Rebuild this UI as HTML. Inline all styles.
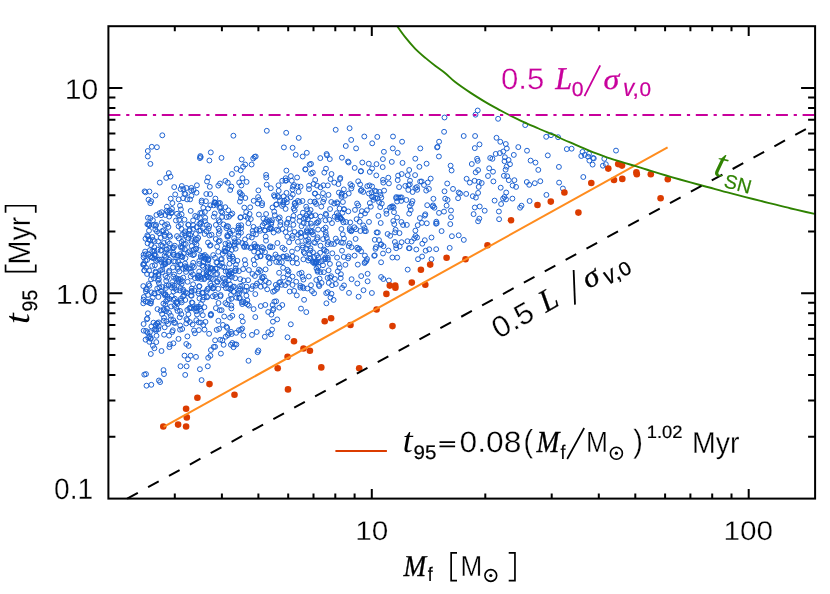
<!DOCTYPE html>
<html><head><meta charset="utf-8"><title>t95 vs Mf</title>
<style>html,body{margin:0;padding:0;background:#fff;}svg{display:block;will-change:transform;}text{text-rendering:geometricPrecision;}</style>
</head><body>
<svg width="830" height="594" viewBox="0 0 830 594">
<rect width="830" height="594" fill="#fff"/>
<g fill="none" stroke="#1a5fd0" stroke-width="0.98">
<circle cx="258.9" cy="214.5" r="2.45"/>
<circle cx="311.0" cy="285.2" r="2.45"/>
<circle cx="216.7" cy="204.7" r="2.45"/>
<circle cx="215.1" cy="294.8" r="2.45"/>
<circle cx="231.9" cy="276.8" r="2.45"/>
<circle cx="166.9" cy="308.5" r="2.45"/>
<circle cx="254.9" cy="276.0" r="2.45"/>
<circle cx="180.2" cy="264.4" r="2.45"/>
<circle cx="271.2" cy="224.1" r="2.45"/>
<circle cx="169.3" cy="248.1" r="2.45"/>
<circle cx="215.9" cy="224.9" r="2.45"/>
<circle cx="206.5" cy="231.3" r="2.45"/>
<circle cx="260.8" cy="286.7" r="2.45"/>
<circle cx="153.9" cy="225.2" r="2.45"/>
<circle cx="360.8" cy="171.4" r="2.45"/>
<circle cx="149.4" cy="285.7" r="2.45"/>
<circle cx="447.6" cy="199.9" r="2.45"/>
<circle cx="379.5" cy="191.9" r="2.45"/>
<circle cx="204.6" cy="234.0" r="2.45"/>
<circle cx="265.1" cy="230.6" r="2.45"/>
<circle cx="376.0" cy="247.1" r="2.45"/>
<circle cx="289.7" cy="291.5" r="2.45"/>
<circle cx="357.3" cy="283.5" r="2.45"/>
<circle cx="390.2" cy="235.8" r="2.45"/>
<circle cx="245.2" cy="216.3" r="2.45"/>
<circle cx="183.8" cy="253.2" r="2.45"/>
<circle cx="148.0" cy="302.1" r="2.45"/>
<circle cx="181.7" cy="241.9" r="2.45"/>
<circle cx="198.9" cy="330.1" r="2.45"/>
<circle cx="148.0" cy="294.9" r="2.45"/>
<circle cx="271.5" cy="222.3" r="2.45"/>
<circle cx="344.0" cy="238.6" r="2.45"/>
<circle cx="303.4" cy="279.6" r="2.45"/>
<circle cx="411.6" cy="203.6" r="2.45"/>
<circle cx="198.5" cy="293.5" r="2.45"/>
<circle cx="381.3" cy="197.6" r="2.45"/>
<circle cx="292.6" cy="235.7" r="2.45"/>
<circle cx="188.4" cy="314.2" r="2.45"/>
<circle cx="167.4" cy="296.8" r="2.45"/>
<circle cx="344.0" cy="285.4" r="2.45"/>
<circle cx="219.8" cy="265.4" r="2.45"/>
<circle cx="270.3" cy="246.3" r="2.45"/>
<circle cx="312.0" cy="291.1" r="2.45"/>
<circle cx="144.4" cy="270.5" r="2.45"/>
<circle cx="178.5" cy="279.8" r="2.45"/>
<circle cx="146.0" cy="374.1" r="2.45"/>
<circle cx="143.7" cy="330.7" r="2.45"/>
<circle cx="315.2" cy="193.5" r="2.45"/>
<circle cx="258.4" cy="190.4" r="2.45"/>
<circle cx="375.2" cy="197.9" r="2.45"/>
<circle cx="149.7" cy="336.2" r="2.45"/>
<circle cx="312.7" cy="231.6" r="2.45"/>
<circle cx="222.2" cy="266.7" r="2.45"/>
<circle cx="180.0" cy="310.9" r="2.45"/>
<circle cx="217.1" cy="281.3" r="2.45"/>
<circle cx="216.7" cy="329.9" r="2.45"/>
<circle cx="398.1" cy="175.6" r="2.45"/>
<circle cx="164.9" cy="295.4" r="2.45"/>
<circle cx="215.1" cy="340.3" r="2.45"/>
<circle cx="161.5" cy="351.0" r="2.45"/>
<circle cx="200.6" cy="223.6" r="2.45"/>
<circle cx="360.4" cy="231.0" r="2.45"/>
<circle cx="319.6" cy="278.6" r="2.45"/>
<circle cx="310.9" cy="223.6" r="2.45"/>
<circle cx="381.1" cy="262.3" r="2.45"/>
<circle cx="337.4" cy="203.6" r="2.45"/>
<circle cx="318.2" cy="257.5" r="2.45"/>
<circle cx="238.9" cy="271.1" r="2.45"/>
<circle cx="170.5" cy="176.6" r="2.45"/>
<circle cx="259.3" cy="199.8" r="2.45"/>
<circle cx="314.5" cy="201.7" r="2.45"/>
<circle cx="172.0" cy="208.9" r="2.45"/>
<circle cx="254.9" cy="247.0" r="2.45"/>
<circle cx="297.3" cy="248.7" r="2.45"/>
<circle cx="188.0" cy="359.3" r="2.45"/>
<circle cx="458.7" cy="235.3" r="2.45"/>
<circle cx="173.4" cy="343.3" r="2.45"/>
<circle cx="157.2" cy="323.5" r="2.45"/>
<circle cx="265.6" cy="269.4" r="2.45"/>
<circle cx="167.2" cy="277.7" r="2.45"/>
<circle cx="344.9" cy="195.7" r="2.45"/>
<circle cx="151.6" cy="292.4" r="2.45"/>
<circle cx="212.9" cy="288.4" r="2.45"/>
<circle cx="302.5" cy="201.0" r="2.45"/>
<circle cx="408.5" cy="185.4" r="2.45"/>
<circle cx="235.2" cy="278.2" r="2.45"/>
<circle cx="209.1" cy="333.8" r="2.45"/>
<circle cx="161.1" cy="245.1" r="2.45"/>
<circle cx="242.2" cy="304.1" r="2.45"/>
<circle cx="270.8" cy="334.3" r="2.45"/>
<circle cx="298.1" cy="234.7" r="2.45"/>
<circle cx="183.3" cy="240.3" r="2.45"/>
<circle cx="323.4" cy="185.3" r="2.45"/>
<circle cx="349.5" cy="243.3" r="2.45"/>
<circle cx="156.5" cy="335.8" r="2.45"/>
<circle cx="338.7" cy="264.1" r="2.45"/>
<circle cx="177.4" cy="303.9" r="2.45"/>
<circle cx="241.0" cy="198.0" r="2.45"/>
<circle cx="323.0" cy="265.2" r="2.45"/>
<circle cx="292.0" cy="251.6" r="2.45"/>
<circle cx="231.4" cy="288.2" r="2.45"/>
<circle cx="275.8" cy="284.9" r="2.45"/>
<circle cx="341.5" cy="194.7" r="2.45"/>
<circle cx="235.9" cy="264.5" r="2.45"/>
<circle cx="165.2" cy="294.4" r="2.45"/>
<circle cx="349.8" cy="230.2" r="2.45"/>
<circle cx="180.9" cy="246.2" r="2.45"/>
<circle cx="318.1" cy="196.7" r="2.45"/>
<circle cx="300.6" cy="186.6" r="2.45"/>
<circle cx="235.6" cy="268.3" r="2.45"/>
<circle cx="154.9" cy="265.2" r="2.45"/>
<circle cx="207.8" cy="276.4" r="2.45"/>
<circle cx="202.9" cy="228.3" r="2.45"/>
<circle cx="277.7" cy="195.9" r="2.45"/>
<circle cx="310.3" cy="201.5" r="2.45"/>
<circle cx="256.7" cy="332.0" r="2.45"/>
<circle cx="229.9" cy="276.4" r="2.45"/>
<circle cx="359.2" cy="248.7" r="2.45"/>
<circle cx="381.8" cy="203.6" r="2.45"/>
<circle cx="194.9" cy="278.1" r="2.45"/>
<circle cx="340.5" cy="218.2" r="2.45"/>
<circle cx="241.6" cy="316.5" r="2.45"/>
<circle cx="196.0" cy="356.9" r="2.45"/>
<circle cx="177.7" cy="267.0" r="2.45"/>
<circle cx="300.4" cy="285.8" r="2.45"/>
<circle cx="266.6" cy="220.0" r="2.45"/>
<circle cx="165.5" cy="264.0" r="2.45"/>
<circle cx="416.3" cy="249.5" r="2.45"/>
<circle cx="395.0" cy="232.4" r="2.45"/>
<circle cx="213.8" cy="287.0" r="2.45"/>
<circle cx="264.8" cy="336.8" r="2.45"/>
<circle cx="342.2" cy="219.8" r="2.45"/>
<circle cx="185.4" cy="194.2" r="2.45"/>
<circle cx="330.1" cy="209.0" r="2.45"/>
<circle cx="369.0" cy="221.9" r="2.45"/>
<circle cx="171.7" cy="296.1" r="2.45"/>
<circle cx="411.6" cy="241.5" r="2.45"/>
<circle cx="148.2" cy="337.7" r="2.45"/>
<circle cx="326.8" cy="238.0" r="2.45"/>
<circle cx="165.8" cy="252.6" r="2.45"/>
<circle cx="285.6" cy="208.9" r="2.45"/>
<circle cx="158.3" cy="329.1" r="2.45"/>
<circle cx="208.4" cy="288.5" r="2.45"/>
<circle cx="202.1" cy="293.1" r="2.45"/>
<circle cx="302.3" cy="245.4" r="2.45"/>
<circle cx="325.8" cy="213.8" r="2.45"/>
<circle cx="251.8" cy="237.5" r="2.45"/>
<circle cx="293.4" cy="224.8" r="2.45"/>
<circle cx="374.8" cy="255.3" r="2.45"/>
<circle cx="400.1" cy="197.5" r="2.45"/>
<circle cx="163.5" cy="230.4" r="2.45"/>
<circle cx="278.4" cy="218.8" r="2.45"/>
<circle cx="281.7" cy="284.8" r="2.45"/>
<circle cx="301.1" cy="233.1" r="2.45"/>
<circle cx="284.4" cy="200.6" r="2.45"/>
<circle cx="218.2" cy="288.8" r="2.45"/>
<circle cx="314.0" cy="242.3" r="2.45"/>
<circle cx="223.4" cy="224.4" r="2.45"/>
<circle cx="201.8" cy="213.1" r="2.45"/>
<circle cx="187.1" cy="293.3" r="2.45"/>
<circle cx="316.0" cy="263.2" r="2.45"/>
<circle cx="152.3" cy="237.0" r="2.45"/>
<circle cx="168.2" cy="254.1" r="2.45"/>
<circle cx="228.8" cy="275.0" r="2.45"/>
<circle cx="158.9" cy="279.2" r="2.45"/>
<circle cx="206.9" cy="257.1" r="2.45"/>
<circle cx="206.3" cy="194.0" r="2.45"/>
<circle cx="243.1" cy="166.8" r="2.45"/>
<circle cx="341.4" cy="229.0" r="2.45"/>
<circle cx="183.1" cy="198.2" r="2.45"/>
<circle cx="151.1" cy="245.1" r="2.45"/>
<circle cx="225.9" cy="288.1" r="2.45"/>
<circle cx="228.8" cy="333.4" r="2.45"/>
<circle cx="332.0" cy="285.2" r="2.45"/>
<circle cx="245.4" cy="303.1" r="2.45"/>
<circle cx="283.2" cy="202.4" r="2.45"/>
<circle cx="328.8" cy="282.9" r="2.45"/>
<circle cx="216.0" cy="274.3" r="2.45"/>
<circle cx="220.6" cy="295.0" r="2.45"/>
<circle cx="164.9" cy="225.0" r="2.45"/>
<circle cx="316.5" cy="223.0" r="2.45"/>
<circle cx="150.3" cy="203.1" r="2.45"/>
<circle cx="276.6" cy="204.3" r="2.45"/>
<circle cx="199.0" cy="306.8" r="2.45"/>
<circle cx="201.2" cy="222.2" r="2.45"/>
<circle cx="199.3" cy="224.0" r="2.45"/>
<circle cx="210.3" cy="205.3" r="2.45"/>
<circle cx="191.1" cy="308.3" r="2.45"/>
<circle cx="174.6" cy="305.6" r="2.45"/>
<circle cx="304.1" cy="299.8" r="2.45"/>
<circle cx="307.9" cy="219.1" r="2.45"/>
<circle cx="221.6" cy="310.2" r="2.45"/>
<circle cx="419.9" cy="218.1" r="2.45"/>
<circle cx="306.3" cy="248.5" r="2.45"/>
<circle cx="233.0" cy="286.9" r="2.45"/>
<circle cx="156.1" cy="260.9" r="2.45"/>
<circle cx="169.4" cy="235.3" r="2.45"/>
<circle cx="348.7" cy="193.5" r="2.45"/>
<circle cx="151.8" cy="257.5" r="2.45"/>
<circle cx="173.2" cy="254.5" r="2.45"/>
<circle cx="350.2" cy="222.4" r="2.45"/>
<circle cx="312.6" cy="262.0" r="2.45"/>
<circle cx="265.7" cy="236.6" r="2.45"/>
<circle cx="180.9" cy="224.4" r="2.45"/>
<circle cx="396.0" cy="245.3" r="2.45"/>
<circle cx="295.6" cy="205.7" r="2.45"/>
<circle cx="382.7" cy="167.1" r="2.45"/>
<circle cx="241.0" cy="232.7" r="2.45"/>
<circle cx="225.7" cy="336.7" r="2.45"/>
<circle cx="215.1" cy="346.8" r="2.45"/>
<circle cx="214.7" cy="213.5" r="2.45"/>
<circle cx="329.4" cy="219.7" r="2.45"/>
<circle cx="259.0" cy="269.6" r="2.45"/>
<circle cx="211.5" cy="234.7" r="2.45"/>
<circle cx="150.5" cy="256.5" r="2.45"/>
<circle cx="289.1" cy="242.2" r="2.45"/>
<circle cx="172.9" cy="267.4" r="2.45"/>
<circle cx="198.2" cy="278.4" r="2.45"/>
<circle cx="296.8" cy="295.4" r="2.45"/>
<circle cx="200.0" cy="218.2" r="2.45"/>
<circle cx="242.8" cy="321.5" r="2.45"/>
<circle cx="159.6" cy="259.5" r="2.45"/>
<circle cx="218.3" cy="251.8" r="2.45"/>
<circle cx="148.8" cy="239.5" r="2.45"/>
<circle cx="377.6" cy="198.5" r="2.45"/>
<circle cx="178.7" cy="238.3" r="2.45"/>
<circle cx="358.6" cy="296.7" r="2.45"/>
<circle cx="262.1" cy="203.1" r="2.45"/>
<circle cx="254.6" cy="264.5" r="2.45"/>
<circle cx="276.2" cy="261.9" r="2.45"/>
<circle cx="341.0" cy="242.5" r="2.45"/>
<circle cx="208.9" cy="277.5" r="2.45"/>
<circle cx="149.3" cy="341.8" r="2.45"/>
<circle cx="254.1" cy="251.5" r="2.45"/>
<circle cx="228.2" cy="236.2" r="2.45"/>
<circle cx="188.4" cy="238.1" r="2.45"/>
<circle cx="282.2" cy="180.8" r="2.45"/>
<circle cx="184.4" cy="233.2" r="2.45"/>
<circle cx="146.8" cy="319.3" r="2.45"/>
<circle cx="292.5" cy="276.6" r="2.45"/>
<circle cx="310.3" cy="231.3" r="2.45"/>
<circle cx="283.7" cy="196.4" r="2.45"/>
<circle cx="154.6" cy="241.2" r="2.45"/>
<circle cx="273.0" cy="310.1" r="2.45"/>
<circle cx="324.3" cy="172.6" r="2.45"/>
<circle cx="383.3" cy="279.0" r="2.45"/>
<circle cx="312.8" cy="172.6" r="2.45"/>
<circle cx="355.0" cy="209.9" r="2.45"/>
<circle cx="180.6" cy="288.0" r="2.45"/>
<circle cx="237.4" cy="260.8" r="2.45"/>
<circle cx="172.2" cy="332.0" r="2.45"/>
<circle cx="220.9" cy="353.6" r="2.45"/>
<circle cx="217.2" cy="262.4" r="2.45"/>
<circle cx="364.9" cy="255.6" r="2.45"/>
<circle cx="151.3" cy="384.8" r="2.45"/>
<circle cx="162.3" cy="287.1" r="2.45"/>
<circle cx="199.0" cy="275.4" r="2.45"/>
<circle cx="349.7" cy="228.2" r="2.45"/>
<circle cx="156.2" cy="329.2" r="2.45"/>
<circle cx="157.9" cy="259.8" r="2.45"/>
<circle cx="228.3" cy="210.3" r="2.45"/>
<circle cx="158.2" cy="241.4" r="2.45"/>
<circle cx="162.5" cy="245.9" r="2.45"/>
<circle cx="383.0" cy="179.9" r="2.45"/>
<circle cx="147.3" cy="235.4" r="2.45"/>
<circle cx="351.6" cy="279.2" r="2.45"/>
<circle cx="243.1" cy="269.1" r="2.45"/>
<circle cx="282.3" cy="305.0" r="2.45"/>
<circle cx="245.3" cy="198.0" r="2.45"/>
<circle cx="148.1" cy="236.5" r="2.45"/>
<circle cx="279.1" cy="257.9" r="2.45"/>
<circle cx="177.0" cy="213.8" r="2.45"/>
<circle cx="344.0" cy="209.3" r="2.45"/>
<circle cx="408.9" cy="248.2" r="2.45"/>
<circle cx="213.7" cy="346.9" r="2.45"/>
<circle cx="189.3" cy="308.5" r="2.45"/>
<circle cx="383.0" cy="253.5" r="2.45"/>
<circle cx="272.6" cy="305.0" r="2.45"/>
<circle cx="351.8" cy="230.3" r="2.45"/>
<circle cx="272.4" cy="247.1" r="2.45"/>
<circle cx="244.3" cy="207.6" r="2.45"/>
<circle cx="199.5" cy="298.5" r="2.45"/>
<circle cx="241.3" cy="185.5" r="2.45"/>
<circle cx="246.4" cy="295.7" r="2.45"/>
<circle cx="222.9" cy="324.9" r="2.45"/>
<circle cx="380.7" cy="223.0" r="2.45"/>
<circle cx="215.5" cy="202.9" r="2.45"/>
<circle cx="246.0" cy="290.7" r="2.45"/>
<circle cx="194.0" cy="330.5" r="2.45"/>
<circle cx="218.4" cy="203.2" r="2.45"/>
<circle cx="321.6" cy="282.9" r="2.45"/>
<circle cx="167.8" cy="212.4" r="2.45"/>
<circle cx="208.2" cy="357.8" r="2.45"/>
<circle cx="219.7" cy="310.2" r="2.45"/>
<circle cx="233.2" cy="258.7" r="2.45"/>
<circle cx="210.9" cy="350.0" r="2.45"/>
<circle cx="206.8" cy="291.0" r="2.45"/>
<circle cx="244.2" cy="246.0" r="2.45"/>
<circle cx="351.3" cy="188.5" r="2.45"/>
<circle cx="361.0" cy="171.1" r="2.45"/>
<circle cx="166.7" cy="210.7" r="2.45"/>
<circle cx="310.5" cy="248.2" r="2.45"/>
<circle cx="258.1" cy="197.1" r="2.45"/>
<circle cx="173.3" cy="252.7" r="2.45"/>
<circle cx="156.3" cy="342.1" r="2.45"/>
<circle cx="398.4" cy="197.5" r="2.45"/>
<circle cx="165.6" cy="294.3" r="2.45"/>
<circle cx="401.6" cy="197.4" r="2.45"/>
<circle cx="273.0" cy="291.7" r="2.45"/>
<circle cx="200.1" cy="309.0" r="2.45"/>
<circle cx="220.0" cy="183.5" r="2.45"/>
<circle cx="152.9" cy="240.0" r="2.45"/>
<circle cx="317.0" cy="255.3" r="2.45"/>
<circle cx="225.4" cy="303.1" r="2.45"/>
<circle cx="195.2" cy="215.9" r="2.45"/>
<circle cx="186.4" cy="319.0" r="2.45"/>
<circle cx="210.8" cy="315.4" r="2.45"/>
<circle cx="300.3" cy="232.6" r="2.45"/>
<circle cx="154.2" cy="258.4" r="2.45"/>
<circle cx="226.4" cy="228.1" r="2.45"/>
<circle cx="145.1" cy="251.6" r="2.45"/>
<circle cx="266.0" cy="222.1" r="2.45"/>
<circle cx="407.5" cy="241.2" r="2.45"/>
<circle cx="396.2" cy="198.2" r="2.45"/>
<circle cx="166.7" cy="249.3" r="2.45"/>
<circle cx="192.6" cy="324.5" r="2.45"/>
<circle cx="247.3" cy="300.3" r="2.45"/>
<circle cx="161.1" cy="215.2" r="2.45"/>
<circle cx="191.4" cy="195.8" r="2.45"/>
<circle cx="147.1" cy="260.0" r="2.45"/>
<circle cx="252.5" cy="273.9" r="2.45"/>
<circle cx="326.4" cy="303.3" r="2.45"/>
<circle cx="286.6" cy="224.0" r="2.45"/>
<circle cx="207.8" cy="366.3" r="2.45"/>
<circle cx="206.4" cy="274.6" r="2.45"/>
<circle cx="335.8" cy="284.0" r="2.45"/>
<circle cx="151.1" cy="301.1" r="2.45"/>
<circle cx="228.1" cy="248.2" r="2.45"/>
<circle cx="388.3" cy="177.7" r="2.45"/>
<circle cx="196.2" cy="311.3" r="2.45"/>
<circle cx="144.3" cy="270.3" r="2.45"/>
<circle cx="199.3" cy="260.9" r="2.45"/>
<circle cx="193.6" cy="190.2" r="2.45"/>
<circle cx="191.2" cy="190.5" r="2.45"/>
<circle cx="194.1" cy="254.3" r="2.45"/>
<circle cx="297.5" cy="186.5" r="2.45"/>
<circle cx="150.1" cy="303.1" r="2.45"/>
<circle cx="207.4" cy="289.1" r="2.45"/>
<circle cx="164.8" cy="234.8" r="2.45"/>
<circle cx="306.2" cy="206.7" r="2.45"/>
<circle cx="327.8" cy="292.1" r="2.45"/>
<circle cx="236.4" cy="297.6" r="2.45"/>
<circle cx="309.0" cy="189.1" r="2.45"/>
<circle cx="178.0" cy="255.4" r="2.45"/>
<circle cx="181.4" cy="228.9" r="2.45"/>
<circle cx="218.4" cy="320.8" r="2.45"/>
<circle cx="451.9" cy="236.2" r="2.45"/>
<circle cx="190.1" cy="199.4" r="2.45"/>
<circle cx="180.7" cy="279.1" r="2.45"/>
<circle cx="262.5" cy="278.3" r="2.45"/>
<circle cx="181.6" cy="214.4" r="2.45"/>
<circle cx="315.4" cy="261.9" r="2.45"/>
<circle cx="163.5" cy="293.2" r="2.45"/>
<circle cx="340.7" cy="218.4" r="2.45"/>
<circle cx="446.6" cy="205.6" r="2.45"/>
<circle cx="158.9" cy="380.5" r="2.45"/>
<circle cx="308.6" cy="241.9" r="2.45"/>
<circle cx="193.2" cy="228.9" r="2.45"/>
<circle cx="202.7" cy="299.8" r="2.45"/>
<circle cx="258.2" cy="252.9" r="2.45"/>
<circle cx="409.8" cy="184.4" r="2.45"/>
<circle cx="260.1" cy="230.8" r="2.45"/>
<circle cx="445.2" cy="198.7" r="2.45"/>
<circle cx="199.2" cy="271.6" r="2.45"/>
<circle cx="252.0" cy="334.9" r="2.45"/>
<circle cx="407.7" cy="175.2" r="2.45"/>
<circle cx="313.6" cy="183.9" r="2.45"/>
<circle cx="176.3" cy="307.9" r="2.45"/>
<circle cx="394.9" cy="242.0" r="2.45"/>
<circle cx="432.8" cy="206.5" r="2.45"/>
<circle cx="326.0" cy="168.7" r="2.45"/>
<circle cx="256.0" cy="234.4" r="2.45"/>
<circle cx="299.3" cy="273.7" r="2.45"/>
<circle cx="354.6" cy="255.6" r="2.45"/>
<circle cx="225.8" cy="251.4" r="2.45"/>
<circle cx="164.0" cy="374.1" r="2.45"/>
<circle cx="207.5" cy="266.5" r="2.45"/>
<circle cx="174.3" cy="285.6" r="2.45"/>
<circle cx="215.3" cy="268.6" r="2.45"/>
<circle cx="261.9" cy="247.1" r="2.45"/>
<circle cx="394.0" cy="212.2" r="2.45"/>
<circle cx="257.3" cy="246.8" r="2.45"/>
<circle cx="330.5" cy="297.5" r="2.45"/>
<circle cx="447.2" cy="183.5" r="2.45"/>
<circle cx="323.1" cy="201.8" r="2.45"/>
<circle cx="238.6" cy="227.6" r="2.45"/>
<circle cx="405.3" cy="185.9" r="2.45"/>
<circle cx="151.0" cy="279.4" r="2.45"/>
<circle cx="189.8" cy="251.2" r="2.45"/>
<circle cx="185.1" cy="263.5" r="2.45"/>
<circle cx="380.5" cy="195.0" r="2.45"/>
<circle cx="197.9" cy="275.9" r="2.45"/>
<circle cx="173.5" cy="291.5" r="2.45"/>
<circle cx="373.6" cy="199.8" r="2.45"/>
<circle cx="255.7" cy="285.7" r="2.45"/>
<circle cx="226.8" cy="226.1" r="2.45"/>
<circle cx="192.9" cy="274.4" r="2.45"/>
<circle cx="206.9" cy="224.8" r="2.45"/>
<circle cx="354.4" cy="227.3" r="2.45"/>
<circle cx="368.9" cy="193.5" r="2.45"/>
<circle cx="299.9" cy="216.8" r="2.45"/>
<circle cx="234.1" cy="238.3" r="2.45"/>
<circle cx="248.1" cy="280.2" r="2.45"/>
<circle cx="230.4" cy="233.6" r="2.45"/>
<circle cx="257.6" cy="352.2" r="2.45"/>
<circle cx="213.2" cy="270.9" r="2.45"/>
<circle cx="187.6" cy="281.8" r="2.45"/>
<circle cx="279.7" cy="217.4" r="2.45"/>
<circle cx="266.3" cy="177.5" r="2.45"/>
<circle cx="230.9" cy="214.7" r="2.45"/>
<circle cx="229.2" cy="256.2" r="2.45"/>
<circle cx="166.2" cy="280.8" r="2.45"/>
<circle cx="325.5" cy="220.3" r="2.45"/>
<circle cx="214.9" cy="202.7" r="2.45"/>
<circle cx="262.1" cy="277.1" r="2.45"/>
<circle cx="242.2" cy="328.5" r="2.45"/>
<circle cx="189.9" cy="322.1" r="2.45"/>
<circle cx="307.3" cy="288.5" r="2.45"/>
<circle cx="340.3" cy="177.9" r="2.45"/>
<circle cx="147.4" cy="224.3" r="2.45"/>
<circle cx="393.3" cy="221.0" r="2.45"/>
<circle cx="172.3" cy="282.1" r="2.45"/>
<circle cx="238.0" cy="229.4" r="2.45"/>
<circle cx="425.3" cy="214.3" r="2.45"/>
<circle cx="170.7" cy="198.7" r="2.45"/>
<circle cx="386.3" cy="210.8" r="2.45"/>
<circle cx="262.6" cy="225.4" r="2.45"/>
<circle cx="278.7" cy="197.2" r="2.45"/>
<circle cx="334.9" cy="279.0" r="2.45"/>
<circle cx="147.6" cy="243.3" r="2.45"/>
<circle cx="166.3" cy="285.6" r="2.45"/>
<circle cx="294.1" cy="185.1" r="2.45"/>
<circle cx="201.6" cy="202.3" r="2.45"/>
<circle cx="310.6" cy="258.5" r="2.45"/>
<circle cx="316.4" cy="261.0" r="2.45"/>
<circle cx="204.8" cy="255.0" r="2.45"/>
<circle cx="158.9" cy="283.0" r="2.45"/>
<circle cx="238.6" cy="225.6" r="2.45"/>
<circle cx="190.7" cy="210.9" r="2.45"/>
<circle cx="143.9" cy="264.9" r="2.45"/>
<circle cx="321.3" cy="206.6" r="2.45"/>
<circle cx="444.5" cy="191.3" r="2.45"/>
<circle cx="150.7" cy="338.1" r="2.45"/>
<circle cx="292.8" cy="194.6" r="2.45"/>
<circle cx="296.4" cy="258.3" r="2.45"/>
<circle cx="287.3" cy="222.6" r="2.45"/>
<circle cx="297.1" cy="263.3" r="2.45"/>
<circle cx="181.3" cy="314.2" r="2.45"/>
<circle cx="249.6" cy="214.0" r="2.45"/>
<circle cx="225.6" cy="282.0" r="2.45"/>
<circle cx="169.3" cy="270.7" r="2.45"/>
<circle cx="161.3" cy="262.0" r="2.45"/>
<circle cx="318.2" cy="266.7" r="2.45"/>
<circle cx="302.5" cy="276.9" r="2.45"/>
<circle cx="262.0" cy="205.2" r="2.45"/>
<circle cx="371.6" cy="192.4" r="2.45"/>
<circle cx="287.1" cy="258.4" r="2.45"/>
<circle cx="244.8" cy="260.1" r="2.45"/>
<circle cx="176.0" cy="278.1" r="2.45"/>
<circle cx="441.6" cy="231.1" r="2.45"/>
<circle cx="408.3" cy="189.9" r="2.45"/>
<circle cx="228.3" cy="288.3" r="2.45"/>
<circle cx="387.6" cy="234.0" r="2.45"/>
<circle cx="146.9" cy="289.1" r="2.45"/>
<circle cx="239.2" cy="182.5" r="2.45"/>
<circle cx="185.2" cy="266.2" r="2.45"/>
<circle cx="278.7" cy="190.8" r="2.45"/>
<circle cx="209.5" cy="235.5" r="2.45"/>
<circle cx="248.4" cy="223.2" r="2.45"/>
<circle cx="297.9" cy="200.9" r="2.45"/>
<circle cx="328.2" cy="242.0" r="2.45"/>
<circle cx="154.3" cy="250.8" r="2.45"/>
<circle cx="147.3" cy="318.5" r="2.45"/>
<circle cx="253.6" cy="260.0" r="2.45"/>
<circle cx="154.4" cy="255.1" r="2.45"/>
<circle cx="165.5" cy="275.9" r="2.45"/>
<circle cx="316.3" cy="262.4" r="2.45"/>
<circle cx="173.7" cy="261.3" r="2.45"/>
<circle cx="327.6" cy="244.3" r="2.45"/>
<circle cx="360.1" cy="184.4" r="2.45"/>
<circle cx="301.0" cy="237.0" r="2.45"/>
<circle cx="166.5" cy="321.4" r="2.45"/>
<circle cx="231.1" cy="331.9" r="2.45"/>
<circle cx="292.9" cy="186.6" r="2.45"/>
<circle cx="234.1" cy="286.6" r="2.45"/>
<circle cx="342.5" cy="212.7" r="2.45"/>
<circle cx="307.4" cy="232.7" r="2.45"/>
<circle cx="229.8" cy="258.7" r="2.45"/>
<circle cx="310.6" cy="210.0" r="2.45"/>
<circle cx="233.3" cy="261.3" r="2.45"/>
<circle cx="287.3" cy="236.7" r="2.45"/>
<circle cx="203.9" cy="297.3" r="2.45"/>
<circle cx="268.6" cy="257.6" r="2.45"/>
<circle cx="149.4" cy="191.5" r="2.45"/>
<circle cx="220.2" cy="339.8" r="2.45"/>
<circle cx="175.2" cy="322.9" r="2.45"/>
<circle cx="396.2" cy="248.2" r="2.45"/>
<circle cx="187.3" cy="320.1" r="2.45"/>
<circle cx="143.3" cy="303.3" r="2.45"/>
<circle cx="225.1" cy="251.3" r="2.45"/>
<circle cx="399.7" cy="246.4" r="2.45"/>
<circle cx="188.3" cy="225.0" r="2.45"/>
<circle cx="238.9" cy="330.2" r="2.45"/>
<circle cx="196.3" cy="320.2" r="2.45"/>
<circle cx="192.5" cy="302.9" r="2.45"/>
<circle cx="150.7" cy="338.8" r="2.45"/>
<circle cx="229.2" cy="274.3" r="2.45"/>
<circle cx="283.1" cy="267.8" r="2.45"/>
<circle cx="309.0" cy="185.7" r="2.45"/>
<circle cx="230.1" cy="284.4" r="2.45"/>
<circle cx="417.7" cy="225.2" r="2.45"/>
<circle cx="292.5" cy="238.2" r="2.45"/>
<circle cx="217.1" cy="246.6" r="2.45"/>
<circle cx="189.5" cy="230.8" r="2.45"/>
<circle cx="203.2" cy="255.8" r="2.45"/>
<circle cx="149.2" cy="225.3" r="2.45"/>
<circle cx="361.1" cy="251.3" r="2.45"/>
<circle cx="200.8" cy="322.6" r="2.45"/>
<circle cx="167.4" cy="299.3" r="2.45"/>
<circle cx="258.0" cy="272.5" r="2.45"/>
<circle cx="154.0" cy="278.4" r="2.45"/>
<circle cx="274.0" cy="195.2" r="2.45"/>
<circle cx="204.9" cy="212.0" r="2.45"/>
<circle cx="180.0" cy="205.7" r="2.45"/>
<circle cx="155.3" cy="229.5" r="2.45"/>
<circle cx="414.2" cy="238.4" r="2.45"/>
<circle cx="213.7" cy="205.3" r="2.45"/>
<circle cx="315.2" cy="180.0" r="2.45"/>
<circle cx="196.5" cy="244.5" r="2.45"/>
<circle cx="203.2" cy="266.9" r="2.45"/>
<circle cx="292.5" cy="284.9" r="2.45"/>
<circle cx="169.1" cy="216.6" r="2.45"/>
<circle cx="313.9" cy="262.0" r="2.45"/>
<circle cx="285.4" cy="180.7" r="2.45"/>
<circle cx="240.5" cy="193.5" r="2.45"/>
<circle cx="381.1" cy="277.0" r="2.45"/>
<circle cx="260.3" cy="281.3" r="2.45"/>
<circle cx="148.5" cy="254.1" r="2.45"/>
<circle cx="234.6" cy="244.3" r="2.45"/>
<circle cx="327.7" cy="257.7" r="2.45"/>
<circle cx="159.4" cy="287.4" r="2.45"/>
<circle cx="272.0" cy="220.2" r="2.45"/>
<circle cx="334.6" cy="216.7" r="2.45"/>
<circle cx="241.2" cy="225.2" r="2.45"/>
<circle cx="325.3" cy="257.5" r="2.45"/>
<circle cx="172.7" cy="248.1" r="2.45"/>
<circle cx="243.7" cy="280.5" r="2.45"/>
<circle cx="186.2" cy="323.5" r="2.45"/>
<circle cx="282.5" cy="229.0" r="2.45"/>
<circle cx="403.1" cy="225.0" r="2.45"/>
<circle cx="205.9" cy="201.2" r="2.45"/>
<circle cx="218.8" cy="233.8" r="2.45"/>
<circle cx="291.8" cy="180.8" r="2.45"/>
<circle cx="182.4" cy="234.4" r="2.45"/>
<circle cx="203.1" cy="256.8" r="2.45"/>
<circle cx="221.7" cy="259.0" r="2.45"/>
<circle cx="190.3" cy="235.1" r="2.45"/>
<circle cx="180.9" cy="209.4" r="2.45"/>
<circle cx="178.1" cy="281.0" r="2.45"/>
<circle cx="218.7" cy="220.3" r="2.45"/>
<circle cx="295.0" cy="202.8" r="2.45"/>
<circle cx="185.3" cy="300.0" r="2.45"/>
<circle cx="234.4" cy="245.9" r="2.45"/>
<circle cx="168.8" cy="173.1" r="2.45"/>
<circle cx="204.4" cy="277.9" r="2.45"/>
<circle cx="279.1" cy="272.8" r="2.45"/>
<circle cx="170.9" cy="319.4" r="2.45"/>
<circle cx="210.4" cy="355.8" r="2.45"/>
<circle cx="360.8" cy="215.5" r="2.45"/>
<circle cx="297.1" cy="177.5" r="2.45"/>
<circle cx="174.8" cy="245.7" r="2.45"/>
<circle cx="383.5" cy="246.2" r="2.45"/>
<circle cx="337.8" cy="271.4" r="2.45"/>
<circle cx="229.0" cy="216.7" r="2.45"/>
<circle cx="188.3" cy="252.3" r="2.45"/>
<circle cx="283.3" cy="277.5" r="2.45"/>
<circle cx="422.3" cy="243.7" r="2.45"/>
<circle cx="278.5" cy="185.3" r="2.45"/>
<circle cx="209.2" cy="226.1" r="2.45"/>
<circle cx="388.5" cy="250.5" r="2.45"/>
<circle cx="204.9" cy="221.1" r="2.45"/>
<circle cx="334.1" cy="244.0" r="2.45"/>
<circle cx="444.0" cy="211.6" r="2.45"/>
<circle cx="277.4" cy="243.0" r="2.45"/>
<circle cx="269.0" cy="229.1" r="2.45"/>
<circle cx="207.0" cy="181.5" r="2.45"/>
<circle cx="184.2" cy="295.0" r="2.45"/>
<circle cx="277.0" cy="288.9" r="2.45"/>
<circle cx="162.5" cy="272.1" r="2.45"/>
<circle cx="179.3" cy="271.5" r="2.45"/>
<circle cx="235.6" cy="248.7" r="2.45"/>
<circle cx="227.2" cy="327.9" r="2.45"/>
<circle cx="145.9" cy="291.5" r="2.45"/>
<circle cx="294.6" cy="232.0" r="2.45"/>
<circle cx="191.4" cy="238.7" r="2.45"/>
<circle cx="215.8" cy="239.0" r="2.45"/>
<circle cx="195.8" cy="234.0" r="2.45"/>
<circle cx="163.5" cy="370.1" r="2.45"/>
<circle cx="150.8" cy="354.0" r="2.45"/>
<circle cx="184.5" cy="193.7" r="2.45"/>
<circle cx="397.2" cy="257.6" r="2.45"/>
<circle cx="354.7" cy="167.9" r="2.45"/>
<circle cx="180.8" cy="298.9" r="2.45"/>
<circle cx="298.6" cy="191.8" r="2.45"/>
<circle cx="156.9" cy="231.6" r="2.45"/>
<circle cx="168.4" cy="227.0" r="2.45"/>
<circle cx="152.8" cy="297.6" r="2.45"/>
<circle cx="145.6" cy="301.5" r="2.45"/>
<circle cx="143.1" cy="264.6" r="2.45"/>
<circle cx="191.7" cy="288.6" r="2.45"/>
<circle cx="186.3" cy="344.0" r="2.45"/>
<circle cx="225.7" cy="271.4" r="2.45"/>
<circle cx="166.1" cy="311.2" r="2.45"/>
<circle cx="144.6" cy="191.4" r="2.45"/>
<circle cx="401.4" cy="222.0" r="2.45"/>
<circle cx="290.7" cy="197.3" r="2.45"/>
<circle cx="201.0" cy="257.7" r="2.45"/>
<circle cx="191.7" cy="246.1" r="2.45"/>
<circle cx="265.8" cy="280.8" r="2.45"/>
<circle cx="227.4" cy="236.7" r="2.45"/>
<circle cx="240.2" cy="279.1" r="2.45"/>
<circle cx="158.0" cy="280.6" r="2.45"/>
<circle cx="337.0" cy="202.3" r="2.45"/>
<circle cx="252.7" cy="286.1" r="2.45"/>
<circle cx="341.5" cy="196.7" r="2.45"/>
<circle cx="256.4" cy="229.5" r="2.45"/>
<circle cx="380.2" cy="207.1" r="2.45"/>
<circle cx="213.4" cy="288.4" r="2.45"/>
<circle cx="317.7" cy="222.6" r="2.45"/>
<circle cx="193.9" cy="267.1" r="2.45"/>
<circle cx="325.6" cy="232.2" r="2.45"/>
<circle cx="204.4" cy="307.2" r="2.45"/>
<circle cx="210.9" cy="267.9" r="2.45"/>
<circle cx="143.3" cy="286.1" r="2.45"/>
<circle cx="320.5" cy="245.7" r="2.45"/>
<circle cx="182.5" cy="247.8" r="2.45"/>
<circle cx="279.3" cy="307.6" r="2.45"/>
<circle cx="377.8" cy="232.5" r="2.45"/>
<circle cx="203.8" cy="261.8" r="2.45"/>
<circle cx="393.6" cy="207.6" r="2.45"/>
<circle cx="151.4" cy="326.4" r="2.45"/>
<circle cx="193.2" cy="225.2" r="2.45"/>
<circle cx="367.0" cy="259.0" r="2.45"/>
<circle cx="167.2" cy="224.2" r="2.45"/>
<circle cx="316.1" cy="203.9" r="2.45"/>
<circle cx="394.3" cy="224.2" r="2.45"/>
<circle cx="320.5" cy="187.3" r="2.45"/>
<circle cx="266.7" cy="184.7" r="2.45"/>
<circle cx="194.9" cy="333.3" r="2.45"/>
<circle cx="333.6" cy="299.9" r="2.45"/>
<circle cx="381.2" cy="244.2" r="2.45"/>
<circle cx="143.6" cy="257.4" r="2.45"/>
<circle cx="193.1" cy="220.4" r="2.45"/>
<circle cx="212.9" cy="279.0" r="2.45"/>
<circle cx="196.7" cy="306.9" r="2.45"/>
<circle cx="172.8" cy="330.3" r="2.45"/>
<circle cx="260.7" cy="256.3" r="2.45"/>
<circle cx="209.8" cy="245.7" r="2.45"/>
<circle cx="225.3" cy="207.2" r="2.45"/>
<circle cx="224.2" cy="316.5" r="2.45"/>
<circle cx="183.4" cy="189.1" r="2.45"/>
<circle cx="287.3" cy="269.8" r="2.45"/>
<circle cx="166.2" cy="256.8" r="2.45"/>
<circle cx="155.9" cy="272.6" r="2.45"/>
<circle cx="280.2" cy="282.0" r="2.45"/>
<circle cx="317.6" cy="271.7" r="2.45"/>
<circle cx="247.5" cy="304.3" r="2.45"/>
<circle cx="239.7" cy="192.3" r="2.45"/>
<circle cx="165.4" cy="215.0" r="2.45"/>
<circle cx="181.2" cy="300.6" r="2.45"/>
<circle cx="177.5" cy="310.9" r="2.45"/>
<circle cx="210.8" cy="314.6" r="2.45"/>
<circle cx="149.1" cy="270.6" r="2.45"/>
<circle cx="449.7" cy="247.9" r="2.45"/>
<circle cx="296.2" cy="281.7" r="2.45"/>
<circle cx="300.3" cy="287.6" r="2.45"/>
<circle cx="203.3" cy="325.0" r="2.45"/>
<circle cx="374.2" cy="255.8" r="2.45"/>
<circle cx="367.3" cy="186.2" r="2.45"/>
<circle cx="231.7" cy="250.0" r="2.45"/>
<circle cx="268.5" cy="221.7" r="2.45"/>
<circle cx="420.1" cy="181.6" r="2.45"/>
<circle cx="350.4" cy="184.2" r="2.45"/>
<circle cx="219.9" cy="203.0" r="2.45"/>
<circle cx="286.9" cy="199.1" r="2.45"/>
<circle cx="271.7" cy="228.8" r="2.45"/>
<circle cx="293.7" cy="208.4" r="2.45"/>
<circle cx="155.7" cy="271.5" r="2.45"/>
<circle cx="351.2" cy="231.3" r="2.45"/>
<circle cx="230.9" cy="344.8" r="2.45"/>
<circle cx="268.8" cy="282.7" r="2.45"/>
<circle cx="292.6" cy="256.5" r="2.45"/>
<circle cx="431.5" cy="237.5" r="2.45"/>
<circle cx="186.6" cy="366.3" r="2.45"/>
<circle cx="190.8" cy="276.5" r="2.45"/>
<circle cx="218.5" cy="303.0" r="2.45"/>
<circle cx="150.9" cy="303.5" r="2.45"/>
<circle cx="409.6" cy="248.2" r="2.45"/>
<circle cx="164.7" cy="327.3" r="2.45"/>
<circle cx="181.9" cy="256.5" r="2.45"/>
<circle cx="274.8" cy="215.2" r="2.45"/>
<circle cx="241.1" cy="329.8" r="2.45"/>
<circle cx="205.2" cy="217.8" r="2.45"/>
<circle cx="266.1" cy="174.9" r="2.45"/>
<circle cx="421.9" cy="222.9" r="2.45"/>
<circle cx="218.6" cy="241.5" r="2.45"/>
<circle cx="169.0" cy="272.1" r="2.45"/>
<circle cx="188.5" cy="234.1" r="2.45"/>
<circle cx="152.3" cy="257.7" r="2.45"/>
<circle cx="314.4" cy="263.5" r="2.45"/>
<circle cx="187.4" cy="336.4" r="2.45"/>
<circle cx="250.2" cy="207.3" r="2.45"/>
<circle cx="337.5" cy="219.1" r="2.45"/>
<circle cx="270.1" cy="227.8" r="2.45"/>
<circle cx="228.2" cy="226.4" r="2.45"/>
<circle cx="187.1" cy="199.4" r="2.45"/>
<circle cx="218.3" cy="185.6" r="2.45"/>
<circle cx="343.8" cy="256.9" r="2.45"/>
<circle cx="147.4" cy="332.4" r="2.45"/>
<circle cx="161.1" cy="291.0" r="2.45"/>
<circle cx="198.2" cy="238.0" r="2.45"/>
<circle cx="151.2" cy="201.2" r="2.45"/>
<circle cx="302.6" cy="286.9" r="2.45"/>
<circle cx="343.0" cy="242.8" r="2.45"/>
<circle cx="289.1" cy="258.6" r="2.45"/>
<circle cx="253.1" cy="233.6" r="2.45"/>
<circle cx="152.2" cy="265.9" r="2.45"/>
<circle cx="260.8" cy="306.1" r="2.45"/>
<circle cx="265.3" cy="304.9" r="2.45"/>
<circle cx="158.4" cy="297.0" r="2.45"/>
<circle cx="231.0" cy="294.9" r="2.45"/>
<circle cx="199.0" cy="286.4" r="2.45"/>
<circle cx="234.7" cy="241.3" r="2.45"/>
<circle cx="229.3" cy="272.0" r="2.45"/>
<circle cx="250.8" cy="219.1" r="2.45"/>
<circle cx="199.5" cy="286.2" r="2.45"/>
<circle cx="180.2" cy="254.1" r="2.45"/>
<circle cx="227.3" cy="235.3" r="2.45"/>
<circle cx="259.4" cy="229.1" r="2.45"/>
<circle cx="384.1" cy="190.6" r="2.45"/>
<circle cx="236.0" cy="270.5" r="2.45"/>
<circle cx="184.5" cy="219.7" r="2.45"/>
<circle cx="267.2" cy="289.3" r="2.45"/>
<circle cx="179.2" cy="219.8" r="2.45"/>
<circle cx="233.5" cy="347.2" r="2.45"/>
<circle cx="365.1" cy="262.1" r="2.45"/>
<circle cx="365.9" cy="231.2" r="2.45"/>
<circle cx="340.1" cy="217.4" r="2.45"/>
<circle cx="320.5" cy="216.6" r="2.45"/>
<circle cx="233.5" cy="291.8" r="2.45"/>
<circle cx="357.8" cy="264.6" r="2.45"/>
<circle cx="269.6" cy="220.4" r="2.45"/>
<circle cx="159.5" cy="213.2" r="2.45"/>
<circle cx="372.1" cy="186.5" r="2.45"/>
<circle cx="340.7" cy="278.1" r="2.45"/>
<circle cx="337.2" cy="241.4" r="2.45"/>
<circle cx="311.9" cy="226.3" r="2.45"/>
<circle cx="309.1" cy="258.1" r="2.45"/>
<circle cx="273.5" cy="308.7" r="2.45"/>
<circle cx="208.6" cy="258.7" r="2.45"/>
<circle cx="315.4" cy="215.3" r="2.45"/>
<circle cx="191.6" cy="295.7" r="2.45"/>
<circle cx="180.6" cy="189.1" r="2.45"/>
<circle cx="154.6" cy="329.2" r="2.45"/>
<circle cx="340.9" cy="274.2" r="2.45"/>
<circle cx="367.6" cy="281.3" r="2.45"/>
<circle cx="273.6" cy="232.5" r="2.45"/>
<circle cx="178.3" cy="261.9" r="2.45"/>
<circle cx="246.2" cy="212.1" r="2.45"/>
<circle cx="152.3" cy="251.2" r="2.45"/>
<circle cx="225.8" cy="284.6" r="2.45"/>
<circle cx="246.8" cy="246.7" r="2.45"/>
<circle cx="149.4" cy="224.9" r="2.45"/>
<circle cx="186.5" cy="188.0" r="2.45"/>
<circle cx="144.0" cy="263.3" r="2.45"/>
<circle cx="268.3" cy="332.2" r="2.45"/>
<circle cx="206.6" cy="276.1" r="2.45"/>
<circle cx="239.1" cy="293.1" r="2.45"/>
<circle cx="225.4" cy="180.9" r="2.45"/>
<circle cx="269.9" cy="247.3" r="2.45"/>
<circle cx="191.5" cy="291.8" r="2.45"/>
<circle cx="157.2" cy="288.5" r="2.45"/>
<circle cx="147.9" cy="313.3" r="2.45"/>
<circle cx="169.4" cy="347.1" r="2.45"/>
<circle cx="202.3" cy="265.5" r="2.45"/>
<circle cx="255.3" cy="294.1" r="2.45"/>
<circle cx="388.9" cy="280.5" r="2.45"/>
<circle cx="168.6" cy="285.5" r="2.45"/>
<circle cx="306.4" cy="215.4" r="2.45"/>
<circle cx="286.5" cy="192.9" r="2.45"/>
<circle cx="292.6" cy="262.6" r="2.45"/>
<circle cx="222.3" cy="212.8" r="2.45"/>
<circle cx="424.8" cy="240.2" r="2.45"/>
<circle cx="315.1" cy="242.9" r="2.45"/>
<circle cx="372.1" cy="168.5" r="2.45"/>
<circle cx="158.2" cy="292.5" r="2.45"/>
<circle cx="148.5" cy="199.7" r="2.45"/>
<circle cx="158.5" cy="275.9" r="2.45"/>
<circle cx="180.5" cy="366.2" r="2.45"/>
<circle cx="303.8" cy="252.0" r="2.45"/>
<circle cx="271.4" cy="314.6" r="2.45"/>
<circle cx="314.1" cy="293.3" r="2.45"/>
<circle cx="238.6" cy="241.8" r="2.45"/>
<circle cx="171.9" cy="212.2" r="2.45"/>
<circle cx="231.3" cy="305.5" r="2.45"/>
<circle cx="227.1" cy="304.4" r="2.45"/>
<circle cx="152.9" cy="345.7" r="2.45"/>
<circle cx="328.5" cy="194.9" r="2.45"/>
<circle cx="166.7" cy="249.7" r="2.45"/>
<circle cx="422.1" cy="256.5" r="2.45"/>
<circle cx="201.3" cy="279.0" r="2.45"/>
<circle cx="375.5" cy="248.8" r="2.45"/>
<circle cx="355.6" cy="238.9" r="2.45"/>
<circle cx="342.9" cy="202.0" r="2.45"/>
<circle cx="202.8" cy="315.2" r="2.45"/>
<circle cx="357.1" cy="203.5" r="2.45"/>
<circle cx="396.3" cy="197.1" r="2.45"/>
<circle cx="251.7" cy="247.3" r="2.45"/>
<circle cx="208.0" cy="177.4" r="2.45"/>
<circle cx="279.1" cy="262.4" r="2.45"/>
<circle cx="399.1" cy="187.1" r="2.45"/>
<circle cx="200.7" cy="230.5" r="2.45"/>
<circle cx="283.0" cy="256.5" r="2.45"/>
<circle cx="156.1" cy="224.9" r="2.45"/>
<circle cx="166.2" cy="177.9" r="2.45"/>
<circle cx="217.0" cy="268.3" r="2.45"/>
<circle cx="358.1" cy="249.4" r="2.45"/>
<circle cx="324.1" cy="259.5" r="2.45"/>
<circle cx="307.0" cy="223.8" r="2.45"/>
<circle cx="164.8" cy="236.2" r="2.45"/>
<circle cx="351.5" cy="247.2" r="2.45"/>
<circle cx="357.2" cy="247.7" r="2.45"/>
<circle cx="181.8" cy="186.0" r="2.45"/>
<circle cx="227.9" cy="335.1" r="2.45"/>
<circle cx="197.0" cy="314.5" r="2.45"/>
<circle cx="193.1" cy="284.3" r="2.45"/>
<circle cx="184.5" cy="355.6" r="2.45"/>
<circle cx="327.8" cy="185.4" r="2.45"/>
<circle cx="228.3" cy="243.0" r="2.45"/>
<circle cx="332.0" cy="223.1" r="2.45"/>
<circle cx="145.7" cy="254.2" r="2.45"/>
<circle cx="191.4" cy="187.9" r="2.45"/>
<circle cx="290.9" cy="176.1" r="2.45"/>
<circle cx="175.2" cy="261.6" r="2.45"/>
<circle cx="270.8" cy="188.2" r="2.45"/>
<circle cx="190.9" cy="295.6" r="2.45"/>
<circle cx="155.7" cy="324.9" r="2.45"/>
<circle cx="374.6" cy="190.8" r="2.45"/>
<circle cx="220.9" cy="207.2" r="2.45"/>
<circle cx="263.3" cy="248.3" r="2.45"/>
<circle cx="215.4" cy="198.6" r="2.45"/>
<circle cx="203.3" cy="273.3" r="2.45"/>
<circle cx="157.5" cy="309.1" r="2.45"/>
<circle cx="287.5" cy="337.3" r="2.45"/>
<circle cx="359.6" cy="221.7" r="2.45"/>
<circle cx="397.7" cy="180.1" r="2.45"/>
<circle cx="338.9" cy="192.6" r="2.45"/>
<circle cx="236.2" cy="332.8" r="2.45"/>
<circle cx="309.4" cy="213.1" r="2.45"/>
<circle cx="190.6" cy="355.7" r="2.45"/>
<circle cx="166.9" cy="206.7" r="2.45"/>
<circle cx="424.0" cy="185.0" r="2.45"/>
<circle cx="154.4" cy="247.3" r="2.45"/>
<circle cx="343.4" cy="222.3" r="2.45"/>
<circle cx="317.5" cy="237.3" r="2.45"/>
<circle cx="164.7" cy="255.5" r="2.45"/>
<circle cx="239.8" cy="297.7" r="2.45"/>
<circle cx="248.8" cy="236.5" r="2.45"/>
<circle cx="229.5" cy="263.8" r="2.45"/>
<circle cx="236.0" cy="242.9" r="2.45"/>
<circle cx="320.1" cy="252.8" r="2.45"/>
<circle cx="305.6" cy="217.8" r="2.45"/>
<circle cx="308.2" cy="260.5" r="2.45"/>
<circle cx="201.0" cy="304.1" r="2.45"/>
<circle cx="321.8" cy="261.3" r="2.45"/>
<circle cx="201.6" cy="380.1" r="2.45"/>
<circle cx="186.8" cy="266.8" r="2.45"/>
<circle cx="164.1" cy="264.3" r="2.45"/>
<circle cx="310.3" cy="250.6" r="2.45"/>
<circle cx="221.8" cy="263.1" r="2.45"/>
<circle cx="416.9" cy="187.1" r="2.45"/>
<circle cx="409.2" cy="213.6" r="2.45"/>
<circle cx="179.8" cy="290.5" r="2.45"/>
<circle cx="180.4" cy="264.6" r="2.45"/>
<circle cx="167.7" cy="241.9" r="2.45"/>
<circle cx="325.9" cy="235.0" r="2.45"/>
<circle cx="258.4" cy="350.5" r="2.45"/>
<circle cx="266.1" cy="214.0" r="2.45"/>
<circle cx="217.3" cy="273.9" r="2.45"/>
<circle cx="303.4" cy="259.3" r="2.45"/>
<circle cx="175.9" cy="220.5" r="2.45"/>
<circle cx="383.3" cy="182.6" r="2.45"/>
<circle cx="327.9" cy="259.4" r="2.45"/>
<circle cx="276.9" cy="229.7" r="2.45"/>
<circle cx="231.4" cy="298.8" r="2.45"/>
<circle cx="145.5" cy="238.7" r="2.45"/>
<circle cx="191.6" cy="290.9" r="2.45"/>
<circle cx="290.8" cy="324.3" r="2.45"/>
<circle cx="183.2" cy="268.9" r="2.45"/>
<circle cx="327.6" cy="277.9" r="2.45"/>
<circle cx="148.3" cy="224.2" r="2.45"/>
<circle cx="164.0" cy="317.9" r="2.45"/>
<circle cx="272.5" cy="207.5" r="2.45"/>
<circle cx="216.2" cy="297.1" r="2.45"/>
<circle cx="379.1" cy="202.1" r="2.45"/>
<circle cx="205.7" cy="259.1" r="2.45"/>
<circle cx="191.1" cy="271.7" r="2.45"/>
<circle cx="177.5" cy="255.9" r="2.45"/>
<circle cx="242.4" cy="178.2" r="2.45"/>
<circle cx="391.4" cy="206.7" r="2.45"/>
<circle cx="242.0" cy="194.9" r="2.45"/>
<circle cx="169.1" cy="259.8" r="2.45"/>
<circle cx="436.0" cy="223.7" r="2.45"/>
<circle cx="174.1" cy="274.5" r="2.45"/>
<circle cx="193.2" cy="262.8" r="2.45"/>
<circle cx="386.5" cy="213.8" r="2.45"/>
<circle cx="270.6" cy="228.3" r="2.45"/>
<circle cx="268.2" cy="312.0" r="2.45"/>
<circle cx="364.6" cy="228.1" r="2.45"/>
<circle cx="361.6" cy="189.9" r="2.45"/>
<circle cx="162.0" cy="231.2" r="2.45"/>
<circle cx="219.6" cy="231.0" r="2.45"/>
<circle cx="214.5" cy="202.2" r="2.45"/>
<circle cx="185.5" cy="258.2" r="2.45"/>
<circle cx="412.5" cy="201.1" r="2.45"/>
<circle cx="254.4" cy="244.0" r="2.45"/>
<circle cx="240.8" cy="217.2" r="2.45"/>
<circle cx="220.8" cy="259.3" r="2.45"/>
<circle cx="228.6" cy="280.3" r="2.45"/>
<circle cx="225.4" cy="243.8" r="2.45"/>
<circle cx="162.2" cy="269.7" r="2.45"/>
<circle cx="343.8" cy="189.4" r="2.45"/>
<circle cx="173.8" cy="247.5" r="2.45"/>
<circle cx="286.3" cy="180.5" r="2.45"/>
<circle cx="251.5" cy="289.1" r="2.45"/>
<circle cx="231.4" cy="273.5" r="2.45"/>
<circle cx="323.5" cy="229.5" r="2.45"/>
<circle cx="308.2" cy="239.3" r="2.45"/>
<circle cx="415.4" cy="188.1" r="2.45"/>
<circle cx="331.5" cy="293.8" r="2.45"/>
<circle cx="166.1" cy="232.4" r="2.45"/>
<circle cx="343.9" cy="209.2" r="2.45"/>
<circle cx="154.6" cy="293.4" r="2.45"/>
<circle cx="388.9" cy="183.4" r="2.45"/>
<circle cx="266.0" cy="240.7" r="2.45"/>
<circle cx="250.5" cy="248.1" r="2.45"/>
<circle cx="431.5" cy="259.2" r="2.45"/>
<circle cx="195.7" cy="308.0" r="2.45"/>
<circle cx="338.1" cy="215.4" r="2.45"/>
<circle cx="229.7" cy="231.8" r="2.45"/>
<circle cx="299.5" cy="220.9" r="2.45"/>
<circle cx="204.2" cy="279.2" r="2.45"/>
<circle cx="230.1" cy="317.6" r="2.45"/>
<circle cx="293.5" cy="215.9" r="2.45"/>
<circle cx="412.6" cy="192.0" r="2.45"/>
<circle cx="160.7" cy="237.9" r="2.45"/>
<circle cx="240.3" cy="217.6" r="2.45"/>
<circle cx="330.5" cy="179.1" r="2.45"/>
<circle cx="306.0" cy="240.6" r="2.45"/>
<circle cx="171.8" cy="287.7" r="2.45"/>
<circle cx="182.4" cy="257.1" r="2.45"/>
<circle cx="158.8" cy="326.0" r="2.45"/>
<circle cx="434.4" cy="207.7" r="2.45"/>
<circle cx="238.8" cy="290.9" r="2.45"/>
<circle cx="186.0" cy="271.9" r="2.45"/>
<circle cx="179.4" cy="282.4" r="2.45"/>
<circle cx="348.7" cy="246.0" r="2.45"/>
<circle cx="317.0" cy="239.3" r="2.45"/>
<circle cx="406.4" cy="200.0" r="2.45"/>
<circle cx="222.8" cy="278.1" r="2.45"/>
<circle cx="159.2" cy="233.2" r="2.45"/>
<circle cx="390.0" cy="207.5" r="2.45"/>
<circle cx="323.1" cy="239.1" r="2.45"/>
<circle cx="269.9" cy="258.2" r="2.45"/>
<circle cx="199.9" cy="369.2" r="2.45"/>
<circle cx="262.0" cy="250.9" r="2.45"/>
<circle cx="306.9" cy="230.2" r="2.45"/>
<circle cx="247.7" cy="218.0" r="2.45"/>
<circle cx="147.9" cy="217.7" r="2.45"/>
<circle cx="325.7" cy="227.6" r="2.45"/>
<circle cx="149.9" cy="250.2" r="2.45"/>
<circle cx="253.6" cy="309.1" r="2.45"/>
<circle cx="208.0" cy="242.5" r="2.45"/>
<circle cx="222.8" cy="253.8" r="2.45"/>
<circle cx="196.5" cy="192.7" r="2.45"/>
<circle cx="308.0" cy="245.1" r="2.45"/>
<circle cx="311.6" cy="216.0" r="2.45"/>
<circle cx="257.8" cy="203.5" r="2.45"/>
<circle cx="313.0" cy="234.4" r="2.45"/>
<circle cx="150.3" cy="218.2" r="2.45"/>
<circle cx="164.0" cy="310.2" r="2.45"/>
<circle cx="243.4" cy="335.5" r="2.45"/>
<circle cx="191.8" cy="302.4" r="2.45"/>
<circle cx="179.7" cy="317.3" r="2.45"/>
<circle cx="201.7" cy="200.6" r="2.45"/>
<circle cx="181.1" cy="247.7" r="2.45"/>
<circle cx="279.2" cy="282.7" r="2.45"/>
<circle cx="238.4" cy="235.7" r="2.45"/>
<circle cx="169.9" cy="344.4" r="2.45"/>
<circle cx="255.3" cy="317.1" r="2.45"/>
<circle cx="203.3" cy="207.8" r="2.45"/>
<circle cx="335.8" cy="238.6" r="2.45"/>
<circle cx="410.7" cy="210.0" r="2.45"/>
<circle cx="303.5" cy="288.2" r="2.45"/>
<circle cx="376.1" cy="191.3" r="2.45"/>
<circle cx="286.6" cy="256.1" r="2.45"/>
<circle cx="257.0" cy="283.5" r="2.45"/>
<circle cx="328.6" cy="270.3" r="2.45"/>
<circle cx="188.4" cy="224.5" r="2.45"/>
<circle cx="197.0" cy="239.7" r="2.45"/>
<circle cx="187.3" cy="309.9" r="2.45"/>
<circle cx="169.6" cy="210.6" r="2.45"/>
<circle cx="339.6" cy="267.8" r="2.45"/>
<circle cx="274.4" cy="301.6" r="2.45"/>
<circle cx="231.4" cy="186.6" r="2.45"/>
<circle cx="292.8" cy="219.8" r="2.45"/>
<circle cx="286.4" cy="170.6" r="2.45"/>
<circle cx="229.7" cy="253.7" r="2.45"/>
<circle cx="282.4" cy="247.7" r="2.45"/>
<circle cx="331.1" cy="276.2" r="2.45"/>
<circle cx="318.7" cy="262.5" r="2.45"/>
<circle cx="242.1" cy="243.1" r="2.45"/>
<circle cx="318.8" cy="284.8" r="2.45"/>
<circle cx="260.2" cy="256.0" r="2.45"/>
<circle cx="178.1" cy="278.9" r="2.45"/>
<circle cx="219.7" cy="221.9" r="2.45"/>
<circle cx="185.1" cy="231.4" r="2.45"/>
<circle cx="253.7" cy="200.8" r="2.45"/>
<circle cx="174.8" cy="298.7" r="2.45"/>
<circle cx="311.6" cy="232.3" r="2.45"/>
<circle cx="231.4" cy="308.4" r="2.45"/>
<circle cx="232.7" cy="230.6" r="2.45"/>
<circle cx="244.5" cy="290.9" r="2.45"/>
<circle cx="301.5" cy="226.2" r="2.45"/>
<circle cx="253.5" cy="226.9" r="2.45"/>
<circle cx="305.7" cy="236.1" r="2.45"/>
<circle cx="169.7" cy="243.6" r="2.45"/>
<circle cx="358.2" cy="181.3" r="2.45"/>
<circle cx="255.5" cy="246.3" r="2.45"/>
<circle cx="180.2" cy="325.5" r="2.45"/>
<circle cx="415.4" cy="230.6" r="2.45"/>
<circle cx="153.5" cy="322.7" r="2.45"/>
<circle cx="399.5" cy="233.1" r="2.45"/>
<circle cx="196.9" cy="185.3" r="2.45"/>
<circle cx="340.0" cy="179.1" r="2.45"/>
<circle cx="195.8" cy="239.3" r="2.45"/>
<circle cx="364.6" cy="263.1" r="2.45"/>
<circle cx="236.6" cy="168.8" r="2.45"/>
<circle cx="180.4" cy="256.3" r="2.45"/>
<circle cx="274.2" cy="211.6" r="2.45"/>
<circle cx="330.1" cy="277.7" r="2.45"/>
<circle cx="172.4" cy="203.1" r="2.45"/>
<circle cx="428.9" cy="188.9" r="2.45"/>
<circle cx="361.9" cy="211.2" r="2.45"/>
<circle cx="425.7" cy="250.7" r="2.45"/>
<circle cx="169.1" cy="312.9" r="2.45"/>
<circle cx="392.8" cy="206.3" r="2.45"/>
<circle cx="349.0" cy="292.9" r="2.45"/>
<circle cx="294.6" cy="203.8" r="2.45"/>
<circle cx="263.8" cy="276.7" r="2.45"/>
<circle cx="143.9" cy="297.0" r="2.45"/>
<circle cx="194.3" cy="308.8" r="2.45"/>
<circle cx="174.0" cy="255.0" r="2.45"/>
<circle cx="263.4" cy="218.6" r="2.45"/>
<circle cx="283.9" cy="256.8" r="2.45"/>
<circle cx="166.0" cy="301.4" r="2.45"/>
<circle cx="380.8" cy="244.8" r="2.45"/>
<circle cx="237.4" cy="294.1" r="2.45"/>
<circle cx="224.9" cy="278.7" r="2.45"/>
<circle cx="292.5" cy="189.4" r="2.45"/>
<circle cx="284.6" cy="249.3" r="2.45"/>
<circle cx="176.2" cy="302.6" r="2.45"/>
<circle cx="157.2" cy="323.2" r="2.45"/>
<circle cx="168.1" cy="324.0" r="2.45"/>
<circle cx="165.9" cy="288.0" r="2.45"/>
<circle cx="146.5" cy="385.7" r="2.45"/>
<circle cx="243.3" cy="301.6" r="2.45"/>
<circle cx="238.5" cy="232.6" r="2.45"/>
<circle cx="341.9" cy="193.5" r="2.45"/>
<circle cx="314.4" cy="257.2" r="2.45"/>
<circle cx="305.5" cy="169.5" r="2.45"/>
<circle cx="189.5" cy="229.4" r="2.45"/>
<circle cx="314.8" cy="193.6" r="2.45"/>
<circle cx="376.3" cy="175.4" r="2.45"/>
<circle cx="190.5" cy="254.1" r="2.45"/>
<circle cx="182.0" cy="281.2" r="2.45"/>
<circle cx="172.4" cy="285.0" r="2.45"/>
<circle cx="182.2" cy="329.0" r="2.45"/>
<circle cx="242.1" cy="285.9" r="2.45"/>
<circle cx="268.3" cy="257.0" r="2.45"/>
<circle cx="144.3" cy="374.6" r="2.45"/>
<circle cx="450.3" cy="224.1" r="2.45"/>
<circle cx="277.3" cy="287.2" r="2.45"/>
<circle cx="176.4" cy="290.1" r="2.45"/>
<circle cx="204.5" cy="329.6" r="2.45"/>
<circle cx="302.9" cy="212.7" r="2.45"/>
<circle cx="227.9" cy="271.4" r="2.45"/>
<circle cx="257.6" cy="248.0" r="2.45"/>
<circle cx="401.2" cy="200.9" r="2.45"/>
<circle cx="197.1" cy="308.5" r="2.45"/>
<circle cx="302.8" cy="247.6" r="2.45"/>
<circle cx="316.5" cy="268.5" r="2.45"/>
<circle cx="316.3" cy="280.0" r="2.45"/>
<circle cx="363.2" cy="225.4" r="2.45"/>
<circle cx="211.0" cy="314.0" r="2.45"/>
<circle cx="345.4" cy="264.8" r="2.45"/>
<circle cx="248.5" cy="360.8" r="2.45"/>
<circle cx="188.6" cy="345.9" r="2.45"/>
<circle cx="226.4" cy="217.1" r="2.45"/>
<circle cx="146.1" cy="331.0" r="2.45"/>
<circle cx="190.8" cy="268.4" r="2.45"/>
<circle cx="156.4" cy="215.0" r="2.45"/>
<circle cx="342.8" cy="234.4" r="2.45"/>
<circle cx="397.1" cy="217.5" r="2.45"/>
<circle cx="200.1" cy="276.9" r="2.45"/>
<circle cx="309.5" cy="254.0" r="2.45"/>
<circle cx="274.8" cy="196.6" r="2.45"/>
<circle cx="207.8" cy="269.2" r="2.45"/>
<circle cx="376.6" cy="232.4" r="2.45"/>
<circle cx="358.3" cy="205.5" r="2.45"/>
<circle cx="183.8" cy="244.0" r="2.45"/>
<circle cx="211.3" cy="285.8" r="2.45"/>
<circle cx="417.2" cy="189.8" r="2.45"/>
<circle cx="332.3" cy="253.3" r="2.45"/>
<circle cx="200.8" cy="255.9" r="2.45"/>
<circle cx="163.9" cy="243.0" r="2.45"/>
<circle cx="155.6" cy="226.0" r="2.45"/>
<circle cx="143.6" cy="299.7" r="2.45"/>
<circle cx="231.9" cy="174.0" r="2.45"/>
<circle cx="427.2" cy="205.2" r="2.45"/>
<circle cx="158.7" cy="322.4" r="2.45"/>
<circle cx="304.0" cy="218.7" r="2.45"/>
<circle cx="164.2" cy="262.2" r="2.45"/>
<circle cx="282.0" cy="205.9" r="2.45"/>
<circle cx="215.9" cy="308.1" r="2.45"/>
<circle cx="436.2" cy="249.2" r="2.45"/>
<circle cx="143.6" cy="324.0" r="2.45"/>
<circle cx="226.5" cy="326.7" r="2.45"/>
<circle cx="288.0" cy="282.7" r="2.45"/>
<circle cx="339.6" cy="208.5" r="2.45"/>
<circle cx="202.9" cy="292.6" r="2.45"/>
<circle cx="274.7" cy="290.8" r="2.45"/>
<circle cx="275.5" cy="254.5" r="2.45"/>
<circle cx="191.5" cy="241.1" r="2.45"/>
<circle cx="160.6" cy="310.6" r="2.45"/>
<circle cx="163.5" cy="309.3" r="2.45"/>
<circle cx="318.6" cy="221.3" r="2.45"/>
<circle cx="417.1" cy="237.5" r="2.45"/>
<circle cx="340.8" cy="218.3" r="2.45"/>
<circle cx="160.4" cy="270.3" r="2.45"/>
<circle cx="147.1" cy="274.0" r="2.45"/>
<circle cx="239.9" cy="201.6" r="2.45"/>
<circle cx="264.7" cy="285.8" r="2.45"/>
<circle cx="342.1" cy="287.9" r="2.45"/>
<circle cx="361.2" cy="276.1" r="2.45"/>
<circle cx="239.1" cy="298.3" r="2.45"/>
<circle cx="278.3" cy="230.7" r="2.45"/>
<circle cx="181.6" cy="284.0" r="2.45"/>
<circle cx="210.6" cy="245.1" r="2.45"/>
<circle cx="294.7" cy="210.3" r="2.45"/>
<circle cx="194.2" cy="290.4" r="2.45"/>
<circle cx="210.8" cy="273.1" r="2.45"/>
<circle cx="301.0" cy="308.6" r="2.45"/>
<circle cx="369.8" cy="171.9" r="2.45"/>
<circle cx="208.6" cy="272.4" r="2.45"/>
<circle cx="276.0" cy="204.7" r="2.45"/>
<circle cx="195.9" cy="249.2" r="2.45"/>
<circle cx="232.3" cy="256.5" r="2.45"/>
<circle cx="280.0" cy="200.6" r="2.45"/>
<circle cx="356.1" cy="229.2" r="2.45"/>
<circle cx="173.3" cy="276.6" r="2.45"/>
<circle cx="194.8" cy="242.2" r="2.45"/>
<circle cx="160.6" cy="250.7" r="2.45"/>
<circle cx="219.1" cy="328.9" r="2.45"/>
<circle cx="230.2" cy="190.0" r="2.45"/>
<circle cx="326.1" cy="214.9" r="2.45"/>
<circle cx="286.8" cy="202.3" r="2.45"/>
<circle cx="185.7" cy="268.8" r="2.45"/>
<circle cx="178.6" cy="226.3" r="2.45"/>
<circle cx="374.8" cy="239.8" r="2.45"/>
<circle cx="348.3" cy="211.4" r="2.45"/>
<circle cx="304.7" cy="253.3" r="2.45"/>
<circle cx="210.1" cy="194.1" r="2.45"/>
<circle cx="363.5" cy="290.2" r="2.45"/>
<circle cx="285.2" cy="285.2" r="2.45"/>
<circle cx="360.8" cy="190.8" r="2.45"/>
<circle cx="157.7" cy="249.7" r="2.45"/>
<circle cx="334.2" cy="203.5" r="2.45"/>
<circle cx="419.4" cy="166.8" r="2.45"/>
<circle cx="206.5" cy="271.9" r="2.45"/>
<circle cx="315.0" cy="202.1" r="2.45"/>
<circle cx="241.1" cy="228.2" r="2.45"/>
<circle cx="307.1" cy="209.3" r="2.45"/>
<circle cx="193.6" cy="249.6" r="2.45"/>
<circle cx="183.1" cy="289.6" r="2.45"/>
<circle cx="224.4" cy="283.6" r="2.45"/>
<circle cx="146.1" cy="267.8" r="2.45"/>
<circle cx="150.0" cy="332.1" r="2.45"/>
<circle cx="433.1" cy="205.4" r="2.45"/>
<circle cx="143.6" cy="254.8" r="2.45"/>
<circle cx="232.3" cy="213.5" r="2.45"/>
<circle cx="158.4" cy="274.1" r="2.45"/>
<circle cx="232.3" cy="315.8" r="2.45"/>
<circle cx="248.9" cy="270.0" r="2.45"/>
<circle cx="436.7" cy="223.3" r="2.45"/>
<circle cx="283.4" cy="204.4" r="2.45"/>
<circle cx="299.5" cy="202.0" r="2.45"/>
<circle cx="154.7" cy="254.2" r="2.45"/>
<circle cx="272.9" cy="321.7" r="2.45"/>
<circle cx="207.1" cy="297.3" r="2.45"/>
<circle cx="234.9" cy="271.1" r="2.45"/>
<circle cx="196.6" cy="227.1" r="2.45"/>
<circle cx="164.1" cy="334.7" r="2.45"/>
<circle cx="170.2" cy="236.6" r="2.45"/>
<circle cx="179.1" cy="215.9" r="2.45"/>
<circle cx="288.5" cy="271.4" r="2.45"/>
<circle cx="230.7" cy="270.9" r="2.45"/>
<circle cx="318.1" cy="229.6" r="2.45"/>
<circle cx="163.8" cy="320.7" r="2.45"/>
<circle cx="326.2" cy="293.1" r="2.45"/>
<circle cx="427.8" cy="182.5" r="2.45"/>
<circle cx="183.2" cy="277.6" r="2.45"/>
<circle cx="281.9" cy="262.2" r="2.45"/>
<circle cx="171.1" cy="306.5" r="2.45"/>
<circle cx="199.2" cy="230.8" r="2.45"/>
<circle cx="439.0" cy="212.9" r="2.45"/>
<circle cx="222.1" cy="216.9" r="2.45"/>
<circle cx="222.4" cy="340.3" r="2.45"/>
<circle cx="170.8" cy="315.7" r="2.45"/>
<circle cx="197.9" cy="277.4" r="2.45"/>
<circle cx="373.2" cy="197.1" r="2.45"/>
<circle cx="401.7" cy="174.0" r="2.45"/>
<circle cx="331.5" cy="174.0" r="2.45"/>
<circle cx="415.1" cy="175.1" r="2.45"/>
<circle cx="326.5" cy="251.6" r="2.45"/>
<circle cx="159.8" cy="182.6" r="2.45"/>
<circle cx="200.3" cy="212.9" r="2.45"/>
<circle cx="160.1" cy="382.1" r="2.45"/>
<circle cx="169.5" cy="298.8" r="2.45"/>
<circle cx="366.4" cy="261.0" r="2.45"/>
<circle cx="168.8" cy="261.7" r="2.45"/>
<circle cx="337.3" cy="217.1" r="2.45"/>
<circle cx="208.2" cy="208.5" r="2.45"/>
<circle cx="173.3" cy="299.7" r="2.45"/>
<circle cx="193.0" cy="255.1" r="2.45"/>
<circle cx="338.4" cy="184.1" r="2.45"/>
<circle cx="155.5" cy="195.5" r="2.45"/>
<circle cx="165.0" cy="263.7" r="2.45"/>
<circle cx="208.6" cy="228.7" r="2.45"/>
<circle cx="180.0" cy="329.7" r="2.45"/>
<circle cx="245.0" cy="239.4" r="2.45"/>
<circle cx="294.1" cy="290.9" r="2.45"/>
<circle cx="218.6" cy="228.6" r="2.45"/>
<circle cx="208.3" cy="259.9" r="2.45"/>
<circle cx="289.7" cy="229.0" r="2.45"/>
<circle cx="183.5" cy="291.4" r="2.45"/>
<circle cx="212.8" cy="296.3" r="2.45"/>
<circle cx="210.8" cy="268.9" r="2.45"/>
<circle cx="145.6" cy="192.3" r="2.45"/>
<circle cx="178.7" cy="199.4" r="2.45"/>
<circle cx="346.1" cy="222.0" r="2.45"/>
<circle cx="303.7" cy="223.1" r="2.45"/>
<circle cx="348.1" cy="258.4" r="2.45"/>
<circle cx="370.8" cy="206.7" r="2.45"/>
<circle cx="415.5" cy="236.0" r="2.45"/>
<circle cx="317.0" cy="185.6" r="2.45"/>
<circle cx="177.9" cy="268.9" r="2.45"/>
<circle cx="161.3" cy="259.6" r="2.45"/>
<circle cx="311.1" cy="173.6" r="2.45"/>
<circle cx="155.7" cy="255.7" r="2.45"/>
<circle cx="246.6" cy="181.9" r="2.45"/>
<circle cx="145.4" cy="260.6" r="2.45"/>
<circle cx="392.4" cy="257.5" r="2.45"/>
<circle cx="395.6" cy="229.8" r="2.45"/>
<circle cx="190.0" cy="307.5" r="2.45"/>
<circle cx="305.3" cy="169.1" r="2.45"/>
<circle cx="379.0" cy="240.1" r="2.45"/>
<circle cx="406.8" cy="224.9" r="2.45"/>
<circle cx="224.9" cy="248.5" r="2.45"/>
<circle cx="323.9" cy="249.5" r="2.45"/>
<circle cx="230.5" cy="289.4" r="2.45"/>
<circle cx="369.5" cy="185.4" r="2.45"/>
<circle cx="364.6" cy="231.0" r="2.45"/>
<circle cx="174.2" cy="187.1" r="2.45"/>
<circle cx="421.6" cy="181.5" r="2.45"/>
<circle cx="433.4" cy="198.8" r="2.45"/>
<circle cx="409.2" cy="170.0" r="2.45"/>
<circle cx="145.9" cy="289.2" r="2.45"/>
<circle cx="168.5" cy="261.9" r="2.45"/>
<circle cx="217.4" cy="282.2" r="2.45"/>
<circle cx="366.9" cy="210.3" r="2.45"/>
<circle cx="324.7" cy="250.4" r="2.45"/>
<circle cx="273.1" cy="258.4" r="2.45"/>
<circle cx="210.9" cy="278.1" r="2.45"/>
<circle cx="208.2" cy="260.1" r="2.45"/>
<circle cx="241.9" cy="302.3" r="2.45"/>
<circle cx="173.3" cy="320.2" r="2.45"/>
<circle cx="410.0" cy="180.7" r="2.45"/>
<circle cx="199.2" cy="263.8" r="2.45"/>
<circle cx="231.6" cy="334.0" r="2.45"/>
<circle cx="154.2" cy="293.6" r="2.45"/>
<circle cx="356.6" cy="219.2" r="2.45"/>
<circle cx="205.5" cy="321.9" r="2.45"/>
<circle cx="213.2" cy="255.1" r="2.45"/>
<circle cx="224.3" cy="267.3" r="2.45"/>
<circle cx="176.6" cy="302.0" r="2.45"/>
<circle cx="365.0" cy="213.4" r="2.45"/>
<circle cx="306.9" cy="231.5" r="2.45"/>
<circle cx="272.1" cy="329.6" r="2.45"/>
<circle cx="301.6" cy="272.8" r="2.45"/>
<circle cx="426.2" cy="190.6" r="2.45"/>
<circle cx="285.6" cy="232.1" r="2.45"/>
<circle cx="152.9" cy="220.2" r="2.45"/>
<circle cx="224.1" cy="251.2" r="2.45"/>
<circle cx="252.6" cy="230.9" r="2.45"/>
<circle cx="229.3" cy="245.5" r="2.45"/>
<circle cx="201.0" cy="310.8" r="2.45"/>
<circle cx="280.3" cy="225.0" r="2.45"/>
<circle cx="244.2" cy="247.0" r="2.45"/>
<circle cx="207.7" cy="263.5" r="2.45"/>
<circle cx="229.3" cy="245.3" r="2.45"/>
<circle cx="212.4" cy="268.7" r="2.45"/>
<circle cx="192.3" cy="265.7" r="2.45"/>
<circle cx="197.0" cy="217.0" r="2.45"/>
<circle cx="145.6" cy="339.7" r="2.45"/>
<circle cx="155.3" cy="275.7" r="2.45"/>
<circle cx="436.3" cy="221.7" r="2.45"/>
<circle cx="150.1" cy="240.2" r="2.45"/>
<circle cx="280.5" cy="221.9" r="2.45"/>
<circle cx="276.9" cy="257.1" r="2.45"/>
<circle cx="148.6" cy="284.1" r="2.45"/>
<circle cx="149.0" cy="230.7" r="2.45"/>
<circle cx="188.7" cy="268.8" r="2.45"/>
<circle cx="240.1" cy="288.9" r="2.45"/>
<circle cx="178.5" cy="338.9" r="2.45"/>
<circle cx="198.7" cy="291.2" r="2.45"/>
<circle cx="334.3" cy="182.6" r="2.45"/>
<circle cx="324.0" cy="199.1" r="2.45"/>
<circle cx="371.9" cy="293.0" r="2.45"/>
<circle cx="288.5" cy="218.8" r="2.45"/>
<circle cx="336.8" cy="213.2" r="2.45"/>
<circle cx="276.2" cy="301.3" r="2.45"/>
<circle cx="198.8" cy="322.4" r="2.45"/>
<circle cx="220.5" cy="296.3" r="2.45"/>
<circle cx="228.7" cy="300.0" r="2.45"/>
<circle cx="210.3" cy="283.7" r="2.45"/>
<circle cx="223.6" cy="344.8" r="2.45"/>
<circle cx="317.8" cy="270.5" r="2.45"/>
<circle cx="319.3" cy="286.1" r="2.45"/>
<circle cx="407.7" cy="269.6" r="2.45"/>
<circle cx="310.8" cy="216.1" r="2.45"/>
<circle cx="371.9" cy="196.6" r="2.45"/>
<circle cx="209.8" cy="186.8" r="2.45"/>
<circle cx="161.9" cy="222.4" r="2.45"/>
<circle cx="269.5" cy="263.2" r="2.45"/>
<circle cx="171.1" cy="213.3" r="2.45"/>
<circle cx="154.4" cy="348.3" r="2.45"/>
<circle cx="285.7" cy="178.2" r="2.45"/>
<circle cx="264.2" cy="223.2" r="2.45"/>
<circle cx="329.9" cy="263.9" r="2.45"/>
<circle cx="161.6" cy="250.1" r="2.45"/>
<circle cx="177.0" cy="236.1" r="2.45"/>
<circle cx="161.6" cy="212.2" r="2.45"/>
<circle cx="175.2" cy="194.4" r="2.45"/>
<circle cx="348.6" cy="256.4" r="2.45"/>
<circle cx="174.5" cy="288.1" r="2.45"/>
<circle cx="227.8" cy="182.7" r="2.45"/>
<circle cx="163.4" cy="303.6" r="2.45"/>
<circle cx="325.6" cy="259.0" r="2.45"/>
<circle cx="185.7" cy="244.0" r="2.45"/>
<circle cx="240.0" cy="286.2" r="2.45"/>
<circle cx="426.8" cy="223.3" r="2.45"/>
<circle cx="248.9" cy="305.6" r="2.45"/>
<circle cx="323.0" cy="193.2" r="2.45"/>
<circle cx="277.2" cy="319.4" r="2.45"/>
<circle cx="199.1" cy="250.0" r="2.45"/>
<circle cx="232.3" cy="343.0" r="2.45"/>
<circle cx="352.0" cy="185.8" r="2.45"/>
<circle cx="240.7" cy="170.4" r="2.45"/>
<circle cx="265.0" cy="252.2" r="2.45"/>
<circle cx="216.4" cy="262.4" r="2.45"/>
<circle cx="163.0" cy="265.7" r="2.45"/>
<circle cx="185.5" cy="235.3" r="2.45"/>
<circle cx="313.0" cy="252.3" r="2.45"/>
<circle cx="478.1" cy="221.3" r="2.45"/>
<circle cx="245.5" cy="244.2" r="2.45"/>
<circle cx="401.6" cy="242.2" r="2.45"/>
<circle cx="219.6" cy="207.9" r="2.45"/>
<circle cx="219.7" cy="240.6" r="2.45"/>
<circle cx="397.1" cy="201.5" r="2.45"/>
<circle cx="264.8" cy="230.4" r="2.45"/>
<circle cx="221.2" cy="211.4" r="2.45"/>
<circle cx="424.8" cy="215.6" r="2.45"/>
<circle cx="418.0" cy="259.2" r="2.45"/>
<circle cx="219.2" cy="279.4" r="2.45"/>
<circle cx="174.0" cy="322.7" r="2.45"/>
<circle cx="429.2" cy="249.3" r="2.45"/>
<circle cx="430.7" cy="178.6" r="2.45"/>
<circle cx="342.0" cy="250.7" r="2.45"/>
<circle cx="331.2" cy="243.9" r="2.45"/>
<circle cx="323.8" cy="272.2" r="2.45"/>
<circle cx="204.7" cy="258.6" r="2.45"/>
<circle cx="165.4" cy="304.8" r="2.45"/>
<circle cx="308.8" cy="276.5" r="2.45"/>
<circle cx="185.2" cy="374.9" r="2.45"/>
<circle cx="289.3" cy="279.6" r="2.45"/>
<circle cx="196.3" cy="248.5" r="2.45"/>
<circle cx="260.6" cy="271.0" r="2.45"/>
<circle cx="206.9" cy="296.5" r="2.45"/>
<circle cx="215.0" cy="257.8" r="2.45"/>
<circle cx="184.8" cy="249.4" r="2.45"/>
<circle cx="213.8" cy="216.7" r="2.45"/>
<circle cx="463.8" cy="239.9" r="2.45"/>
<circle cx="151.3" cy="274.9" r="2.45"/>
<circle cx="306.3" cy="312.1" r="2.45"/>
<circle cx="169.1" cy="335.6" r="2.45"/>
<circle cx="162.1" cy="314.0" r="2.45"/>
<circle cx="181.7" cy="302.4" r="2.45"/>
<circle cx="331.3" cy="202.0" r="2.45"/>
<circle cx="245.4" cy="264.3" r="2.45"/>
<circle cx="236.4" cy="344.5" r="2.45"/>
<circle cx="246.6" cy="286.7" r="2.45"/>
<circle cx="155.9" cy="330.7" r="2.45"/>
<circle cx="185.7" cy="292.3" r="2.45"/>
<circle cx="363.2" cy="191.9" r="2.45"/>
<circle cx="257.0" cy="257.1" r="2.45"/>
<circle cx="183.0" cy="296.5" r="2.45"/>
<circle cx="409.8" cy="206.3" r="2.45"/>
<circle cx="378.4" cy="215.9" r="2.45"/>
<circle cx="223.0" cy="285.2" r="2.45"/>
<circle cx="297.9" cy="241.9" r="2.45"/>
<circle cx="369.8" cy="203.1" r="2.45"/>
<circle cx="287.9" cy="274.5" r="2.45"/>
<circle cx="337.1" cy="257.6" r="2.45"/>
<circle cx="320.5" cy="272.1" r="2.45"/>
<circle cx="234.8" cy="344.3" r="2.45"/>
<circle cx="367.6" cy="273.8" r="2.45"/>
<circle cx="477.7" cy="110.5" r="2.45"/>
<circle cx="475.5" cy="114.7" r="2.45"/>
<circle cx="498.1" cy="118.8" r="2.45"/>
<circle cx="525.2" cy="125.1" r="2.45"/>
<circle cx="463.7" cy="136.0" r="2.45"/>
<circle cx="475.1" cy="136.0" r="2.45"/>
<circle cx="479.5" cy="144.4" r="2.45"/>
<circle cx="474.8" cy="148.1" r="2.45"/>
<circle cx="496.5" cy="137.8" r="2.45"/>
<circle cx="500.3" cy="141.8" r="2.45"/>
<circle cx="505.8" cy="144.0" r="2.45"/>
<circle cx="506.8" cy="148.5" r="2.45"/>
<circle cx="518.3" cy="147.1" r="2.45"/>
<circle cx="527.0" cy="150.7" r="2.45"/>
<circle cx="503.3" cy="151.5" r="2.45"/>
<circle cx="499.9" cy="153.1" r="2.45"/>
<circle cx="495.7" cy="153.9" r="2.45"/>
<circle cx="513.8" cy="154.9" r="2.45"/>
<circle cx="490.2" cy="158.0" r="2.45"/>
<circle cx="492.4" cy="158.8" r="2.45"/>
<circle cx="477.1" cy="158.8" r="2.45"/>
<circle cx="477.7" cy="160.8" r="2.45"/>
<circle cx="471.8" cy="164.0" r="2.45"/>
<circle cx="504.9" cy="157.2" r="2.45"/>
<circle cx="508.6" cy="160.0" r="2.45"/>
<circle cx="504.5" cy="161.2" r="2.45"/>
<circle cx="510.0" cy="164.2" r="2.45"/>
<circle cx="506.6" cy="166.7" r="2.45"/>
<circle cx="505.6" cy="169.7" r="2.45"/>
<circle cx="530.6" cy="160.6" r="2.45"/>
<circle cx="535.5" cy="162.6" r="2.45"/>
<circle cx="538.3" cy="169.9" r="2.45"/>
<circle cx="547.8" cy="155.4" r="2.45"/>
<circle cx="546.2" cy="136.8" r="2.45"/>
<circle cx="551.0" cy="135.2" r="2.45"/>
<circle cx="558.1" cy="137.2" r="2.45"/>
<circle cx="566.8" cy="149.1" r="2.45"/>
<circle cx="571.6" cy="148.7" r="2.45"/>
<circle cx="558.9" cy="166.9" r="2.45"/>
<circle cx="582.5" cy="151.9" r="2.45"/>
<circle cx="581.3" cy="156.0" r="2.45"/>
<circle cx="584.7" cy="154.9" r="2.45"/>
<circle cx="589.0" cy="153.7" r="2.45"/>
<circle cx="588.0" cy="156.6" r="2.45"/>
<circle cx="593.0" cy="158.0" r="2.45"/>
<circle cx="593.8" cy="158.4" r="2.45"/>
<circle cx="589.4" cy="160.6" r="2.45"/>
<circle cx="592.6" cy="164.6" r="2.45"/>
<circle cx="604.3" cy="158.8" r="2.45"/>
<circle cx="602.9" cy="165.7" r="2.45"/>
<circle cx="605.8" cy="164.2" r="2.45"/>
<circle cx="583.3" cy="177.0" r="2.45"/>
<circle cx="559.1" cy="182.6" r="2.45"/>
<circle cx="562.9" cy="188.5" r="2.45"/>
<circle cx="546.4" cy="194.9" r="2.45"/>
<circle cx="540.3" cy="181.2" r="2.45"/>
<circle cx="534.8" cy="183.2" r="2.45"/>
<circle cx="529.2" cy="184.8" r="2.45"/>
<circle cx="526.8" cy="182.0" r="2.45"/>
<circle cx="529.6" cy="201.0" r="2.45"/>
<circle cx="521.5" cy="205.7" r="2.45"/>
<circle cx="520.1" cy="207.7" r="2.45"/>
<circle cx="450.6" cy="165.7" r="2.45"/>
<circle cx="451.6" cy="170.5" r="2.45"/>
<circle cx="478.1" cy="170.1" r="2.45"/>
<circle cx="475.7" cy="172.3" r="2.45"/>
<circle cx="489.2" cy="168.3" r="2.45"/>
<circle cx="493.0" cy="171.7" r="2.45"/>
<circle cx="488.0" cy="176.0" r="2.45"/>
<circle cx="493.4" cy="181.4" r="2.45"/>
<circle cx="503.9" cy="175.8" r="2.45"/>
<circle cx="507.2" cy="176.2" r="2.45"/>
<circle cx="508.8" cy="180.2" r="2.45"/>
<circle cx="514.4" cy="180.2" r="2.45"/>
<circle cx="512.6" cy="185.5" r="2.45"/>
<circle cx="516.1" cy="186.9" r="2.45"/>
<circle cx="466.6" cy="178.8" r="2.45"/>
<circle cx="469.8" cy="182.6" r="2.45"/>
<circle cx="474.6" cy="180.8" r="2.45"/>
<circle cx="478.9" cy="181.8" r="2.45"/>
<circle cx="481.7" cy="183.0" r="2.45"/>
<circle cx="478.7" cy="186.9" r="2.45"/>
<circle cx="500.7" cy="187.7" r="2.45"/>
<circle cx="453.0" cy="188.9" r="2.45"/>
<circle cx="458.7" cy="192.5" r="2.45"/>
<circle cx="460.1" cy="193.5" r="2.45"/>
<circle cx="466.2" cy="193.9" r="2.45"/>
<circle cx="478.1" cy="192.9" r="2.45"/>
<circle cx="472.8" cy="196.2" r="2.45"/>
<circle cx="475.9" cy="197.6" r="2.45"/>
<circle cx="458.1" cy="198.2" r="2.45"/>
<circle cx="506.2" cy="192.5" r="2.45"/>
<circle cx="504.5" cy="197.0" r="2.45"/>
<circle cx="503.1" cy="198.6" r="2.45"/>
<circle cx="506.0" cy="199.4" r="2.45"/>
<circle cx="512.4" cy="198.6" r="2.45"/>
<circle cx="494.6" cy="200.6" r="2.45"/>
<circle cx="501.1" cy="204.0" r="2.45"/>
<circle cx="474.8" cy="207.5" r="2.45"/>
<circle cx="479.7" cy="206.5" r="2.45"/>
<circle cx="484.7" cy="210.7" r="2.45"/>
<circle cx="473.6" cy="214.1" r="2.45"/>
<circle cx="498.9" cy="211.5" r="2.45"/>
<circle cx="451.0" cy="210.5" r="2.45"/>
<circle cx="451.0" cy="217.2" r="2.45"/>
<circle cx="479.3" cy="218.6" r="2.45"/>
<circle cx="499.1" cy="219.2" r="2.45"/>
<circle cx="616.0" cy="150.6" r="2.45"/>
<circle cx="162.3" cy="135.3" r="2.45"/>
<circle cx="233.4" cy="135.7" r="2.45"/>
<circle cx="266.8" cy="130.8" r="2.45"/>
<circle cx="286.2" cy="132.8" r="2.45"/>
<circle cx="151.8" cy="146.8" r="2.45"/>
<circle cx="156.9" cy="147.2" r="2.45"/>
<circle cx="147.8" cy="151.0" r="2.45"/>
<circle cx="147.8" cy="156.5" r="2.45"/>
<circle cx="150.4" cy="163.9" r="2.45"/>
<circle cx="200.3" cy="156.1" r="2.45"/>
<circle cx="199.9" cy="158.1" r="2.45"/>
<circle cx="200.7" cy="157.1" r="2.45"/>
<circle cx="209.4" cy="160.5" r="2.45"/>
<circle cx="210.8" cy="152.4" r="2.45"/>
<circle cx="221.5" cy="157.9" r="2.45"/>
<circle cx="241.7" cy="159.5" r="2.45"/>
<circle cx="253.2" cy="158.5" r="2.45"/>
<circle cx="254.6" cy="156.9" r="2.45"/>
<circle cx="255.7" cy="156.5" r="2.45"/>
<circle cx="283.9" cy="147.4" r="2.45"/>
<circle cx="245.2" cy="164.5" r="2.45"/>
<circle cx="251.6" cy="164.5" r="2.45"/>
<circle cx="444.5" cy="117.5" r="2.45"/>
<circle cx="444.1" cy="131.8" r="2.45"/>
<circle cx="349.6" cy="128.2" r="2.45"/>
<circle cx="335.7" cy="129.8" r="2.45"/>
<circle cx="298.7" cy="137.9" r="2.45"/>
<circle cx="364.3" cy="136.5" r="2.45"/>
<circle cx="377.3" cy="136.9" r="2.45"/>
<circle cx="393.0" cy="136.5" r="2.45"/>
<circle cx="402.1" cy="141.7" r="2.45"/>
<circle cx="351.2" cy="139.9" r="2.45"/>
<circle cx="345.8" cy="146.0" r="2.45"/>
<circle cx="356.1" cy="148.4" r="2.45"/>
<circle cx="372.2" cy="143.3" r="2.45"/>
<circle cx="292.6" cy="147.8" r="2.45"/>
<circle cx="306.8" cy="152.8" r="2.45"/>
<circle cx="295.7" cy="154.8" r="2.45"/>
<circle cx="302.7" cy="156.5" r="2.45"/>
<circle cx="320.3" cy="158.1" r="2.45"/>
<circle cx="326.6" cy="154.0" r="2.45"/>
<circle cx="327.0" cy="155.3" r="2.45"/>
<circle cx="329.8" cy="159.1" r="2.45"/>
<circle cx="341.9" cy="157.7" r="2.45"/>
<circle cx="383.9" cy="151.8" r="2.45"/>
<circle cx="392.8" cy="148.4" r="2.45"/>
<circle cx="397.7" cy="152.8" r="2.45"/>
<circle cx="420.3" cy="148.4" r="2.45"/>
<circle cx="439.1" cy="141.7" r="2.45"/>
<circle cx="437.5" cy="146.8" r="2.45"/>
<circle cx="437.1" cy="147.4" r="2.45"/>
<circle cx="438.9" cy="156.5" r="2.45"/>
<circle cx="415.3" cy="158.7" r="2.45"/>
<circle cx="382.9" cy="159.1" r="2.45"/>
<circle cx="391.8" cy="161.9" r="2.45"/>
<circle cx="402.5" cy="162.9" r="2.45"/>
<circle cx="362.3" cy="162.5" r="2.45"/>
<circle cx="368.8" cy="163.7" r="2.45"/>
<circle cx="376.5" cy="164.1" r="2.45"/>
<circle cx="348.0" cy="161.5" r="2.45"/>
<circle cx="348.6" cy="162.5" r="2.45"/>
<circle cx="309.6" cy="164.5" r="2.45"/>
<circle cx="311.0" cy="163.9" r="2.45"/>
<circle cx="426.6" cy="163.7" r="2.45"/>
</g>
<g fill="#dc3c00">
<circle cx="163.3" cy="426.5" r="3.3"/>
<circle cx="178.1" cy="424.6" r="3.3"/>
<circle cx="186.1" cy="426.5" r="3.3"/>
<circle cx="186.8" cy="417.4" r="3.3"/>
<circle cx="186.1" cy="408.7" r="3.3"/>
<circle cx="197.4" cy="397.7" r="3.3"/>
<circle cx="209.5" cy="384.1" r="3.3"/>
<circle cx="234.5" cy="394.7" r="3.3"/>
<circle cx="277.7" cy="368.2" r="3.3"/>
<circle cx="288.0" cy="389.4" r="3.3"/>
<circle cx="287.6" cy="356.8" r="3.3"/>
<circle cx="294.0" cy="341.3" r="3.3"/>
<circle cx="303.5" cy="348.5" r="3.3"/>
<circle cx="309.9" cy="350.8" r="3.3"/>
<circle cx="321.3" cy="367.4" r="3.3"/>
<circle cx="324.7" cy="321.2" r="3.3"/>
<circle cx="331.1" cy="318.2" r="3.3"/>
<circle cx="350.5" cy="325.0" r="3.3"/>
<circle cx="359.2" cy="368.2" r="3.3"/>
<circle cx="376.6" cy="309.5" r="3.3"/>
<circle cx="386.4" cy="293.9" r="3.3"/>
<circle cx="389.8" cy="285.6" r="3.3"/>
<circle cx="395.2" cy="285.6" r="3.3"/>
<circle cx="395.4" cy="287.8" r="3.3"/>
<circle cx="392.5" cy="326.1" r="3.3"/>
<circle cx="411.8" cy="282.6" r="3.3"/>
<circle cx="420.9" cy="269.8" r="3.3"/>
<circle cx="425.3" cy="284.7" r="3.3"/>
<circle cx="430.2" cy="264.6" r="3.3"/>
<circle cx="446.6" cy="257.7" r="3.3"/>
<circle cx="465.5" cy="259.2" r="3.3"/>
<circle cx="487.5" cy="245.2" r="3.3"/>
<circle cx="511.0" cy="220.2" r="3.3"/>
<circle cx="537.5" cy="205.0" r="3.3"/>
<circle cx="550.8" cy="201.6" r="3.3"/>
<circle cx="564.4" cy="192.5" r="3.3"/>
<circle cx="578.4" cy="212.6" r="3.3"/>
<circle cx="591.3" cy="183.0" r="3.3"/>
<circle cx="608.3" cy="168.6" r="3.3"/>
<circle cx="614.0" cy="180.0" r="3.3"/>
<circle cx="618.2" cy="164.1" r="3.3"/>
<circle cx="622.0" cy="165.6" r="3.3"/>
<circle cx="622.3" cy="178.9" r="3.3"/>
<circle cx="636.4" cy="172.4" r="3.3"/>
<circle cx="636.8" cy="174.3" r="3.3"/>
<circle cx="650.8" cy="174.3" r="3.3"/>
<circle cx="660.6" cy="198.2" r="3.3"/>
<circle cx="667.8" cy="179.2" r="3.3"/>
</g>
<line x1="163.6" y1="426.9" x2="667.6" y2="147.4" stroke="#ff8c1e" stroke-width="2"/>
<path d="M397.3,26.3 C398.6,28.1 402.2,33.5 405.2,37.2 C408.2,41.0 411.9,45.3 415.3,48.8 C418.7,52.2 422.0,55.0 425.4,57.9 C428.8,60.8 432.1,63.4 435.5,66.0 C438.9,68.6 442.3,70.8 445.6,73.5 C448.9,76.2 451.1,78.8 455.2,82.0 C459.3,85.2 465.2,89.2 470.3,92.6 C475.4,95.9 480.4,99.1 485.5,102.1 C490.6,105.1 496.8,108.4 500.6,110.5 C504.4,112.6 504.4,112.6 508.2,114.5 C512.0,116.4 518.2,119.5 523.3,121.8 C528.3,124.1 533.5,126.3 538.5,128.5 C543.5,130.7 550.0,133.1 553.6,134.7 C557.2,136.3 556.4,136.3 560.0,138.0 C563.6,139.7 570.2,142.5 575.2,144.7 C580.2,146.9 585.2,149.1 590.3,151.1 C595.3,153.1 600.5,155.0 605.5,156.8 C610.5,158.6 615.6,160.1 620.6,161.7 C625.6,163.3 630.8,164.7 635.8,166.2 C640.8,167.7 645.8,169.3 650.9,170.9 C656.0,172.5 661.2,174.1 666.1,175.5 C671.0,176.9 674.4,177.9 680.0,179.5 C685.6,181.1 694.1,183.4 700.0,185.0 C705.9,186.6 710.2,187.7 715.2,189.1 C720.2,190.5 725.2,191.9 730.3,193.2 C735.3,194.5 740.5,195.8 745.5,197.1 C750.5,198.4 755.6,199.6 760.6,200.9 C765.6,202.2 770.8,203.4 775.8,204.7 C780.8,206.0 785.8,207.3 790.9,208.5 C796.0,209.7 802.1,211.1 806.1,212.0 C810.1,212.9 813.2,213.6 814.6,213.9" fill="none" stroke="#2e8200" stroke-width="1.9"/>
<line x1="108.4" y1="115" x2="815.1" y2="115" stroke="#c8009c" stroke-width="2" stroke-dasharray="12 5.8 3.2 5.7"/>
<line x1="127.2" y1="498.6" x2="815.1" y2="124.1" stroke="#000" stroke-width="2" stroke-dasharray="12.1 11.67"/>
<rect x="108.4" y="26.2" width="706.7" height="472.4" fill="none" stroke="#000" stroke-width="2"/>
<path d="M174.8,498.6v-5M174.8,26.2v5M221.9,498.6v-5M221.9,26.2v5M258.4,498.6v-5M258.4,26.2v5M288.2,498.6v-5M288.2,26.2v5M313.5,498.6v-5M313.5,26.2v5M335.3,498.6v-5M335.3,26.2v5M354.6,498.6v-5M354.6,26.2v5M371.8,498.6v-9.7M371.8,26.2v9.7M485.3,498.6v-5M485.3,26.2v5M551.7,498.6v-5M551.7,26.2v5M598.8,498.6v-5M598.8,26.2v5M635.3,498.6v-5M635.3,26.2v5M665.1,498.6v-5M665.1,26.2v5M690.4,498.6v-5M690.4,26.2v5M712.2,498.6v-5M712.2,26.2v5M731.5,498.6v-5M731.5,26.2v5M748.7,498.6v-9.7M748.7,26.2v9.7M108.4,436.8h7M815.1,436.8h-7M108.4,400.6h7M815.1,400.6h-7M108.4,375.0h7M815.1,375.0h-7M108.4,355.1h7M815.1,355.1h-7M108.4,338.8h7M815.1,338.8h-7M108.4,325.1h7M815.1,325.1h-7M108.4,313.2h7M815.1,313.2h-7M108.4,302.7h7M815.1,302.7h-7M108.4,293.3h14M815.1,293.3h-14M108.4,231.5h7M815.1,231.5h-7M108.4,195.3h7M815.1,195.3h-7M108.4,169.7h7M815.1,169.7h-7M108.4,149.8h7M815.1,149.8h-7M108.4,133.5h7M815.1,133.5h-7M108.4,119.8h7M815.1,119.8h-7M108.4,107.9h7M815.1,107.9h-7M108.4,97.4h7M815.1,97.4h-7M108.4,88.0h14M815.1,88.0h-14" stroke="#000" stroke-width="2" fill="none"/>
<text transform="translate(64.79,99.22) scale(1.058,1)" font-family="Liberation Sans" font-size="28.45" fill="#000" stroke="#fff" stroke-width="0.3">10</text>
<text transform="translate(55.67,304.32) scale(1.100,1)" font-family="Liberation Sans" font-size="27.75" fill="#000" stroke="#fff" stroke-width="0.3">1.0</text>
<text transform="translate(53.96,499.41) scale(0.957,1)" font-family="Liberation Sans" font-size="29.44" fill="#000" stroke="#fff" stroke-width="0.3">0.1</text>
<text transform="translate(355.20,539.73) scale(1.100,1)" font-family="Liberation Sans" font-size="27.04" fill="#000" stroke="#fff" stroke-width="0.3">10</text>
<text transform="translate(723.43,539.73) scale(1.100,1)" font-family="Liberation Sans" font-size="27.04" fill="#000" stroke="#fff" stroke-width="0.3">100</text>
<text transform="translate(403.42,575.70) scale(0.900,1)" font-family="Liberation Serif" font-size="30.30" font-style="italic" fill="#000" stroke="#000" stroke-width="0.3">M</text>
<text transform="translate(427.83,581.40) scale(0.900,1)" font-family="Liberation Sans" font-size="19.73" fill="#000" stroke="#000" stroke-width="0.2">f</text>
<text transform="translate(460.59,576.00) scale(0.900,1)" font-family="Liberation Sans" font-size="28.99" fill="#000" stroke="#fff" stroke-width="0.3">M</text>
<text transform="translate(402.67,451.94) scale(1.004,1)" font-family="Liberation Serif" font-size="35.61" font-style="italic" fill="#000">t</text>
<text transform="translate(413.48,458.80) scale(1.043,1)" font-family="Liberation Sans" font-size="19.72" fill="#000" stroke="#000" stroke-width="0.2">95</text>
<text transform="translate(459.55,451.91) scale(1.079,1)" font-family="Liberation Sans" font-size="29.44" fill="#000" stroke="#fff" stroke-width="0.3">0.08</text>
<text transform="translate(523.40,452.10) scale(0.900,1)" font-family="Liberation Sans" font-size="31.91" fill="#000" stroke="#fff" stroke-width="0.3">(</text>
<text transform="translate(536.46,451.59) scale(0.900,1)" font-family="Liberation Serif" font-size="30.61" font-style="italic" fill="#000" stroke="#000" stroke-width="0.3">M</text>
<text transform="translate(560.56,458.60) scale(0.900,1)" font-family="Liberation Sans" font-size="19.86" fill="#000" stroke="#000" stroke-width="0.2">f</text>
<text transform="translate(585.89,452.00) scale(0.904,1)" font-family="Liberation Sans" font-size="29.13" fill="#000" stroke="#fff" stroke-width="0.3">M</text>
<text transform="translate(633.14,452.23) scale(0.900,1)" font-family="Liberation Sans" font-size="32.23" fill="#000" stroke="#fff" stroke-width="0.3">)</text>
<text transform="translate(646.81,438.32) scale(1.026,1)" font-family="Liberation Sans" font-size="17.89" fill="#000" stroke="#000" stroke-width="0.2">1.02</text>
<text transform="translate(692.12,453.00) scale(0.949,1)" font-family="Liberation Sans" font-size="30.00" fill="#000" stroke="#fff" stroke-width="0.3">Myr</text>
<path d="M457,552.85H451.15000000000003V580.55H457" fill="none" stroke="#000" stroke-width="1.7"/>
<path d="M508.7,552.85H514.9499999999999V580.55H508.7" fill="none" stroke="#000" stroke-width="1.7"/>
<circle cx="490.8" cy="575.5" r="5.9" fill="none" stroke="#000" stroke-width="1.6"/><circle cx="490.8" cy="575.5" r="1.6" fill="#000"/>
<g transform="translate(28.8,324) rotate(-90)"><text transform="translate(0.07,0.25) scale(1.100,1)" font-family="Liberation Serif" font-size="35.44" font-style="italic" fill="#000">t</text><text transform="translate(12.62,8.29) scale(0.924,1)" font-family="Liberation Sans" font-size="20.99" fill="#000" stroke="#000" stroke-width="0.2">95</text><text transform="translate(59.50,1.24) scale(0.920,1)" font-family="Liberation Sans" font-size="31.22" fill="#000" stroke="#fff" stroke-width="0.3">Myr</text><path d="M59.4,-23.25H52.45V6.95H59.4" fill="none" stroke="#000" stroke-width="1.7"/><path d="M111.3,-23.25H118.25V6.95H111.3" fill="none" stroke="#000" stroke-width="1.7"/></g>
<line x1="335.4" y1="451.1" x2="386.9" y2="451.1" stroke="#dc3c00" stroke-width="2"/>
<line x1="567.2" y1="459" x2="584.2" y2="428" stroke="#000" stroke-width="1.7"/>
<circle cx="616.4" cy="453.2" r="6.0" fill="none" stroke="#000" stroke-width="1.6"/><circle cx="616.4" cy="453.2" r="1.6" fill="#000"/>
<path d="M439.5,442.1H455.1M439.5,446.4H455.1" stroke="#000" stroke-width="1.7" fill="none"/>
<g transform="translate(501.9,89.3)"><text transform="translate(-0.93,-0.10) scale(1.047,1)" font-family="Liberation Sans" font-size="29.72" fill="#c8009c" stroke="#fff" stroke-width="0.3">0.5</text><text transform="translate(53.31,-0.32) scale(0.959,1)" font-family="Liberation Serif" font-size="31.67" font-style="italic" fill="#c8009c" stroke="#c8009c" stroke-width="0.3">L</text><text transform="translate(69.86,6.90) scale(1.054,1)" font-family="Liberation Sans" font-size="20.14" fill="#c8009c" stroke="#c8009c" stroke-width="0.2">0</text><text transform="translate(101.66,0.10) scale(1.079,1)" font-family="Liberation Serif" font-size="29.62" font-style="italic" fill="#c8009c" stroke="#c8009c" stroke-width="0.3">σ</text><text transform="translate(121.12,6.30) scale(0.900,1)" font-family="Liberation Sans" font-size="25.09" font-style="italic" fill="#c8009c" stroke="#c8009c" stroke-width="0.2">v</text><text transform="translate(130.42,6.43) scale(1.100,1)" font-family="Liberation Sans" font-size="22.08" fill="#c8009c" stroke="#c8009c" stroke-width="0.2">,</text><text transform="translate(137.68,6.70) scale(1.063,1)" font-family="Liberation Sans" font-size="19.58" fill="#c8009c" stroke="#c8009c" stroke-width="0.2">0</text><line x1="82.6" y1="6.9" x2="98.3" y2="-23.9" stroke="#c8009c" stroke-width="1.8"/></g>
<g transform="translate(499.6,339) rotate(-29.3)"><text transform="translate(-0.93,-0.10) scale(1.047,1)" font-family="Liberation Sans" font-size="29.72" fill="#000" stroke="#fff" stroke-width="0.3">0.5</text><text transform="translate(53.31,-0.32) scale(0.959,1)" font-family="Liberation Serif" font-size="31.67" font-style="italic" fill="#000" stroke="#000" stroke-width="0.3">L</text><text transform="translate(101.66,0.10) scale(1.079,1)" font-family="Liberation Serif" font-size="29.62" font-style="italic" fill="#000" stroke="#000" stroke-width="0.3">σ</text><text transform="translate(121.12,6.30) scale(0.900,1)" font-family="Liberation Sans" font-size="25.09" font-style="italic" fill="#000" stroke="#000" stroke-width="0.2">v</text><text transform="translate(130.42,6.43) scale(1.100,1)" font-family="Liberation Sans" font-size="22.08" fill="#000" stroke="#000" stroke-width="0.2">,</text><text transform="translate(137.68,6.70) scale(1.063,1)" font-family="Liberation Sans" font-size="19.58" fill="#000" stroke="#000" stroke-width="0.2">0</text><line x1="82.6" y1="6.9" x2="98.3" y2="-23.9" stroke="#000" stroke-width="1.8"/></g>
<g transform="translate(714.2,174.8) rotate(15)" opacity="0.99"><text transform="translate(-1.62,0.11) scale(1.023,1)" font-family="Liberation Serif" font-size="39.47" font-style="italic" fill="#2e8200">t</text><text transform="translate(11.72,9.31) scale(1.007,1)" font-family="Liberation Sans" font-size="19.44" fill="#2e8200" stroke="#2e8200" stroke-width="0.2">SN</text></g>
</svg>
</body></html>
